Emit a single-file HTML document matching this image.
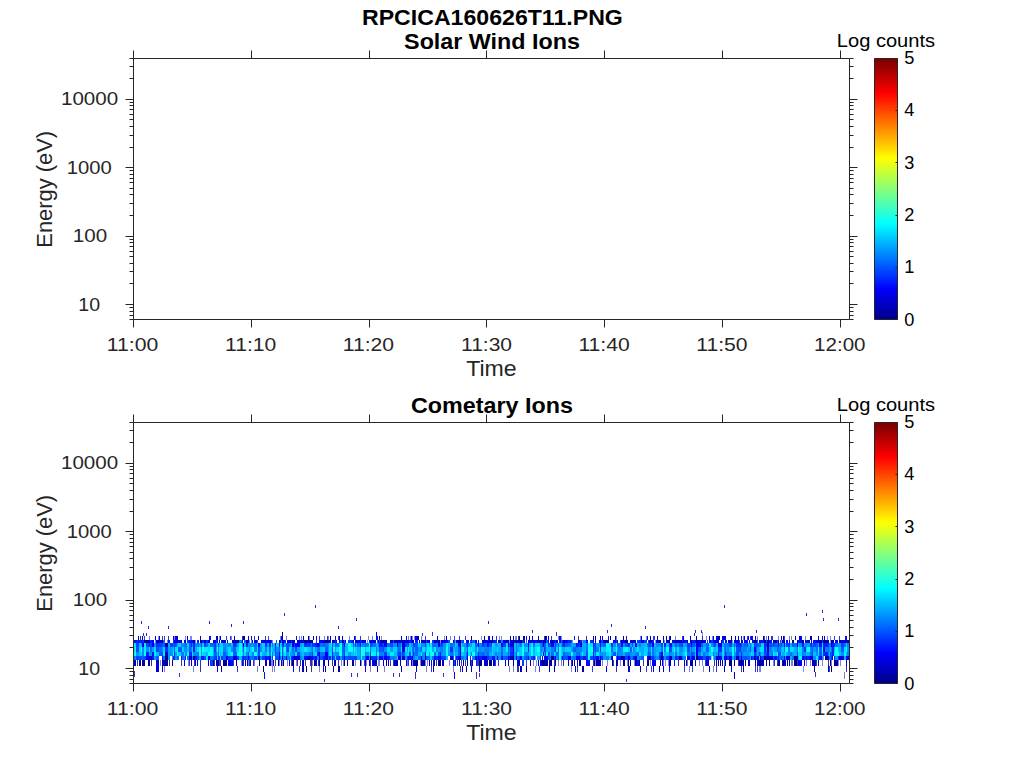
<!DOCTYPE html>
<html><head><meta charset="utf-8"><style>html,body{margin:0;padding:0;background:#fff;overflow:hidden}svg{display:block}</style></head>
<body><svg width="1024" height="768" viewBox="0 0 1024 768" font-family="Liberation Sans, sans-serif" fill="#262626">
<defs><linearGradient id="jetg" x1="0" y1="1" x2="0" y2="0"><stop offset="0.00781" stop-color="#00008f"/><stop offset="0.02344" stop-color="#00009f"/><stop offset="0.03906" stop-color="#0000af"/><stop offset="0.05469" stop-color="#0000bf"/><stop offset="0.07031" stop-color="#0000cf"/><stop offset="0.08594" stop-color="#0000df"/><stop offset="0.10156" stop-color="#0000ef"/><stop offset="0.11719" stop-color="#0000ff"/><stop offset="0.13281" stop-color="#0010ff"/><stop offset="0.14844" stop-color="#0020ff"/><stop offset="0.16406" stop-color="#0030ff"/><stop offset="0.17969" stop-color="#0040ff"/><stop offset="0.19531" stop-color="#0050ff"/><stop offset="0.21094" stop-color="#0060ff"/><stop offset="0.22656" stop-color="#0070ff"/><stop offset="0.24219" stop-color="#0080ff"/><stop offset="0.25781" stop-color="#008fff"/><stop offset="0.27344" stop-color="#009fff"/><stop offset="0.28906" stop-color="#00afff"/><stop offset="0.30469" stop-color="#00bfff"/><stop offset="0.32031" stop-color="#00cfff"/><stop offset="0.33594" stop-color="#00dfff"/><stop offset="0.35156" stop-color="#00efff"/><stop offset="0.36719" stop-color="#00ffff"/><stop offset="0.38281" stop-color="#10ffef"/><stop offset="0.39844" stop-color="#20ffdf"/><stop offset="0.41406" stop-color="#30ffcf"/><stop offset="0.42969" stop-color="#40ffbf"/><stop offset="0.44531" stop-color="#50ffaf"/><stop offset="0.46094" stop-color="#60ff9f"/><stop offset="0.47656" stop-color="#70ff8f"/><stop offset="0.49219" stop-color="#80ff80"/><stop offset="0.50781" stop-color="#8fff70"/><stop offset="0.52344" stop-color="#9fff60"/><stop offset="0.53906" stop-color="#afff50"/><stop offset="0.55469" stop-color="#bfff40"/><stop offset="0.57031" stop-color="#cfff30"/><stop offset="0.58594" stop-color="#dfff20"/><stop offset="0.60156" stop-color="#efff10"/><stop offset="0.61719" stop-color="#ffff00"/><stop offset="0.63281" stop-color="#ffef00"/><stop offset="0.64844" stop-color="#ffdf00"/><stop offset="0.66406" stop-color="#ffcf00"/><stop offset="0.67969" stop-color="#ffbf00"/><stop offset="0.69531" stop-color="#ffaf00"/><stop offset="0.71094" stop-color="#ff9f00"/><stop offset="0.72656" stop-color="#ff8f00"/><stop offset="0.74219" stop-color="#ff8000"/><stop offset="0.75781" stop-color="#ff7000"/><stop offset="0.77344" stop-color="#ff6000"/><stop offset="0.78906" stop-color="#ff5000"/><stop offset="0.80469" stop-color="#ff4000"/><stop offset="0.82031" stop-color="#ff3000"/><stop offset="0.83594" stop-color="#ff2000"/><stop offset="0.85156" stop-color="#ff1000"/><stop offset="0.86719" stop-color="#ff0000"/><stop offset="0.88281" stop-color="#ef0000"/><stop offset="0.89844" stop-color="#df0000"/><stop offset="0.91406" stop-color="#cf0000"/><stop offset="0.92969" stop-color="#bf0000"/><stop offset="0.94531" stop-color="#af0000"/><stop offset="0.96094" stop-color="#9f0000"/><stop offset="0.97656" stop-color="#8f0000"/><stop offset="0.99219" stop-color="#800000"/></linearGradient></defs>
<rect width="1024" height="768" fill="#fff"/>
<g shape-rendering="crispEdges">
<path fill="#00009f" d="M282 632h1v4.2h-1zM217 636.2h1v3.6h-1zM243 636.2h1v3.6h-1zM696 636.2h1v3.6h-1zM718 636.2h1v3.6h-1zM232 639.8h1v3.1h-1zM279 639.8h1v3.1h-1zM290 639.8h1v3.1h-1zM304 639.8h3v3.1h-3zM311 639.8h1v3.1h-1zM342 639.8h2v3.1h-2zM402 639.8h3v3.1h-3zM513 639.8h1v3.1h-1zM518 639.8h1v3.1h-1zM520 639.8h2v3.1h-2zM545 639.8h1v3.1h-1zM550 639.8h1v3.1h-1zM687 639.8h1v3.1h-1zM701 639.8h2v3.1h-2zM759 639.8h1v3.1h-1zM778 639.8h1v3.1h-1zM792 639.8h2v3.1h-2zM831 639.8h1v3.1h-1zM165 642.9h3v4.3h-3zM513 642.9h1v4.3h-1zM767 642.9h2v4.3h-2zM545 655.8h1v4.6h-1zM148 660.4h1v5.7h-1zM172 660.4h1v5.7h-1zM236 660.4h1v5.7h-1zM328 660.4h1v5.7h-1zM352 660.4h1v5.7h-1zM353 660.4h1v5.7h-1zM422 660.4h3v5.7h-3zM440 660.4h1v5.7h-1zM470 660.4h1v5.7h-1zM530 660.4h1v5.7h-1zM546 660.4h2v5.7h-2zM579 660.4h1v5.7h-1zM623 660.4h2v5.7h-2zM635 660.4h2v5.7h-2zM639 660.4h1v5.7h-1zM660 660.4h1v5.7h-1zM779 660.4h1v5.7h-1zM835 660.4h3v5.7h-3zM221 666.1h1v5.9h-1zM339 666.1h1v5.9h-1zM520 666.1h2v5.9h-2zM582 666.1h1v5.9h-1zM724 666.1h1v5.9h-1z"/>
<path fill="#0000ff" d="M376 632h1v4.2h-1zM159 636.2h1v3.6h-1zM175 636.2h2v3.6h-2zM251 636.2h1v3.6h-1zM546 636.2h1v3.6h-1zM600 636.2h1v3.6h-1zM602 636.2h1v3.6h-1zM683 636.2h1v3.6h-1zM690 636.2h1v3.6h-1zM716 636.2h2v3.6h-2zM722 636.2h2v3.6h-2zM755 636.2h1v3.6h-1zM799 636.2h3v3.6h-3zM818 636.2h1v3.6h-1zM152 639.8h2v3.1h-2zM178 639.8h3v3.1h-3zM217 639.8h1v3.1h-1zM265 639.8h2v3.1h-2zM267 639.8h2v3.1h-2zM320 639.8h3v3.1h-3zM336 639.8h1v3.1h-1zM345 639.8h1v3.1h-1zM405 639.8h2v3.1h-2zM408 639.8h1v3.1h-1zM411 639.8h1v3.1h-1zM443 639.8h3v3.1h-3zM446 639.8h2v3.1h-2zM453 639.8h1v3.1h-1zM467 639.8h1v3.1h-1zM517 639.8h1v3.1h-1zM531 639.8h2v3.1h-2zM554 639.8h1v3.1h-1zM565 639.8h3v3.1h-3zM586 639.8h2v3.1h-2zM613 639.8h3v3.1h-3zM623 639.8h2v3.1h-2zM632 639.8h1v3.1h-1zM663 639.8h1v3.1h-1zM705 639.8h1v3.1h-1zM709 639.8h2v3.1h-2zM713 639.8h1v3.1h-1zM734 639.8h1v3.1h-1zM749 639.8h1v3.1h-1zM786 639.8h2v3.1h-2zM816 639.8h2v3.1h-2zM835 639.8h3v3.1h-3zM152 642.9h2v4.3h-2zM258 642.9h2v4.3h-2zM279 642.9h1v4.3h-1zM297 642.9h3v4.3h-3zM317 642.9h2v4.3h-2zM344 642.9h1v4.3h-1zM384 642.9h3v4.3h-3zM510 642.9h3v4.3h-3zM528 642.9h1v4.3h-1zM551 642.9h3v4.3h-3zM691 642.9h1v4.3h-1zM718 642.9h1v4.3h-1zM719 642.9h3v4.3h-3zM696 647.2h2v4.4h-2zM754 647.2h2v4.4h-2zM823 647.2h2v4.4h-2zM279 651.6h1v4.2h-1zM319 651.6h1v4.2h-1zM661 651.6h2v4.2h-2zM146 655.8h3v4.6h-3zM312 655.8h1v4.6h-1zM332 655.8h1v4.6h-1zM366 655.8h3v4.6h-3zM379 655.8h1v4.6h-1zM384 655.8h3v4.6h-3zM398 655.8h3v4.6h-3zM408 655.8h1v4.6h-1zM440 655.8h1v4.6h-1zM458 655.8h2v4.6h-2zM482 655.8h2v4.6h-2zM497 655.8h1v4.6h-1zM516 655.8h1v4.6h-1zM542 655.8h1v4.6h-1zM546 655.8h2v4.6h-2zM555 655.8h1v4.6h-1zM576 655.8h3v4.6h-3zM579 655.8h1v4.6h-1zM596 655.8h3v4.6h-3zM628 655.8h2v4.6h-2zM751 655.8h1v4.6h-1zM766 655.8h1v4.6h-1zM802 655.8h2v4.6h-2zM812 655.8h1v4.6h-1zM847 655.8h2v4.6h-2zM197 660.4h1v5.7h-1zM372 660.4h1v5.7h-1zM540 660.4h2v5.7h-2zM799 660.4h3v5.7h-3zM365 666.1h1v5.9h-1zM606 666.1h1v5.9h-1zM653 666.1h1v5.9h-1z"/>
<path fill="#0000cf" fill-opacity="0.80" d="M432 632h1v4.2h-1zM230 636.2h1v3.6h-1zM265 636.2h1v3.6h-1zM319 636.2h1v3.6h-1zM338 636.2h1v3.6h-1zM276 639.8h1v3.1h-1zM189 660.4h1v5.7h-1zM194 660.4h1v5.7h-1zM393 660.4h1v5.7h-1zM495 660.4h1v5.7h-1zM571 660.4h1v5.7h-1zM643 660.4h1v5.7h-1zM237 666.1h1v5.9h-1zM651 666.1h1v5.9h-1zM755 666.1h1v5.9h-1zM757 666.1h1v5.9h-1zM846 666.1h1v5.9h-1z"/>
<path fill="#0000af" fill-opacity="0.80" d="M556 632h1v4.2h-1zM648 639.8h1v3.1h-1zM757 639.8h1v3.1h-1zM233 660.4h1v5.7h-1zM300 660.4h1v5.7h-1zM310 660.4h1v5.7h-1zM461 660.4h1v5.7h-1zM498 660.4h1v5.7h-1zM678 660.4h1v5.7h-1zM774 660.4h1v5.7h-1zM777 660.4h1v5.7h-1zM816 660.4h1v5.7h-1zM518 666.1h1v5.9h-1zM577 666.1h1v5.9h-1zM476 672h1v7h-1z"/>
<path fill="#0000ff" fill-opacity="0.50" d="M702 632h1v4.2h-1zM299 636.2h1v3.6h-1zM410 636.2h1v3.6h-1zM561 636.2h1v3.6h-1zM778 636.2h1v3.6h-1zM830 636.2h1v3.6h-1zM251 639.8h1v3.1h-1zM367 639.8h1v3.1h-1zM732 639.8h1v3.1h-1zM665 660.4h1v5.7h-1zM164 666.1h1v5.9h-1zM535 666.1h1v5.9h-1z"/>
<path fill="#0000cf" d="M138 636.2h1v3.6h-1zM155 636.2h1v3.6h-1zM187 636.2h1v3.6h-1zM216 636.2h1v3.6h-1zM330 636.2h1v3.6h-1zM339 636.2h1v3.6h-1zM354 636.2h1v3.6h-1zM411 636.2h1v3.6h-1zM446 636.2h1v3.6h-1zM593 636.2h1v3.6h-1zM650 636.2h1v3.6h-1zM666 636.2h1v3.6h-1zM725 636.2h1v3.6h-1zM159 639.8h3v3.1h-3zM185 639.8h1v3.1h-1zM204 639.8h2v3.1h-2zM208 639.8h2v3.1h-2zM213 639.8h1v3.1h-1zM233 639.8h3v3.1h-3zM252 639.8h1v3.1h-1zM262 639.8h3v3.1h-3zM282 639.8h1v3.1h-1zM283 639.8h1v3.1h-1zM289 639.8h1v3.1h-1zM292 639.8h2v3.1h-2zM297 639.8h3v3.1h-3zM300 639.8h2v3.1h-2zM307 639.8h2v3.1h-2zM333 639.8h2v3.1h-2zM394 639.8h3v3.1h-3zM419 639.8h1v3.1h-1zM434 639.8h2v3.1h-2zM489 639.8h3v3.1h-3zM506 639.8h2v3.1h-2zM508 639.8h1v3.1h-1zM510 639.8h3v3.1h-3zM514 639.8h2v3.1h-2zM556 639.8h2v3.1h-2zM599 639.8h1v3.1h-1zM651 639.8h1v3.1h-1zM656 639.8h3v3.1h-3zM691 639.8h1v3.1h-1zM718 639.8h1v3.1h-1zM729 639.8h3v3.1h-3zM767 647.2h2v4.4h-2zM150 655.8h2v4.6h-2zM191 655.8h1v4.6h-1zM233 655.8h3v4.6h-3zM282 655.8h1v4.6h-1zM307 655.8h2v4.6h-2zM319 655.8h1v4.6h-1zM611 655.8h2v4.6h-2zM649 655.8h2v4.6h-2zM687 655.8h3v4.6h-3zM726 655.8h1v4.6h-1zM754 655.8h2v4.6h-2zM757 655.8h2v4.6h-2zM760 655.8h1v4.6h-1zM788 655.8h2v4.6h-2zM810 655.8h2v4.6h-2zM841 655.8h3v4.6h-3zM134 660.4h1v5.7h-1zM163 660.4h2v5.7h-2zM191 660.4h1v5.7h-1zM195 660.4h1v5.7h-1zM302 660.4h2v5.7h-2zM365 660.4h1v5.7h-1zM373 660.4h3v5.7h-3zM383 660.4h1v5.7h-1zM411 660.4h1v5.7h-1zM545 660.4h1v5.7h-1zM550 660.4h1v5.7h-1zM599 660.4h1v5.7h-1zM600 660.4h1v5.7h-1zM669 660.4h1v5.7h-1zM716 660.4h1v5.7h-1zM748 660.4h2v5.7h-2zM785 660.4h1v5.7h-1zM798 660.4h1v5.7h-1zM818 660.4h1v5.7h-1zM846 660.4h1v5.7h-1zM162 666.1h1v5.9h-1zM323 666.1h1v5.9h-1zM401 666.1h1v5.9h-1zM628 666.1h2v5.9h-2zM640 666.1h1v5.9h-1zM709 666.1h1v5.9h-1z"/>
<path fill="#00009f" fill-opacity="0.80" d="M140 636.2h1v3.6h-1zM242 636.2h1v3.6h-1zM544 636.2h1v3.6h-1zM586 636.2h1v3.6h-1zM702 636.2h1v3.6h-1zM257 639.8h1v3.1h-1zM181 660.4h1v5.7h-1zM214 660.4h1v5.7h-1zM275 660.4h1v5.7h-1zM297 660.4h1v5.7h-1zM318 660.4h1v5.7h-1zM338 660.4h1v5.7h-1zM465 660.4h1v5.7h-1z"/>
<path fill="#0000bf" d="M142 636.2h1v3.6h-1zM248 636.2h1v3.6h-1zM342 636.2h1v3.6h-1zM471 636.2h1v3.6h-1zM663 636.2h1v3.6h-1zM735 636.2h1v3.6h-1zM824 636.2h1v3.6h-1zM156 639.8h3v3.1h-3zM177 639.8h1v3.1h-1zM184 639.8h1v3.1h-1zM223 639.8h3v3.1h-3zM246 639.8h2v3.1h-2zM269 639.8h2v3.1h-2zM280 639.8h1v3.1h-1zM353 639.8h1v3.1h-1zM356 639.8h1v3.1h-1zM365 639.8h1v3.1h-1zM380 639.8h3v3.1h-3zM384 639.8h3v3.1h-3zM397 639.8h1v3.1h-1zM422 639.8h3v3.1h-3zM482 639.8h2v3.1h-2zM498 639.8h3v3.1h-3zM516 639.8h1v3.1h-1zM519 639.8h1v3.1h-1zM537 639.8h3v3.1h-3zM544 639.8h1v3.1h-1zM551 639.8h3v3.1h-3zM563 639.8h2v3.1h-2zM593 639.8h1v3.1h-1zM603 639.8h3v3.1h-3zM649 639.8h2v3.1h-2zM666 639.8h3v3.1h-3zM716 639.8h2v3.1h-2zM797 639.8h1v3.1h-1zM805 639.8h1v3.1h-1zM807 639.8h3v3.1h-3zM811 639.8h1v3.1h-1zM844 639.8h2v3.1h-2zM846 639.8h1v3.1h-1zM847 639.8h2v3.1h-2zM460 642.9h1v4.3h-1zM165 651.6h3v4.2h-3zM189 655.8h2v4.6h-2zM258 655.8h2v4.6h-2zM402 655.8h3v4.6h-3zM467 655.8h1v4.6h-1zM510 655.8h3v4.6h-3zM648 655.8h1v4.6h-1zM670 655.8h2v4.6h-2zM679 655.8h3v4.6h-3zM716 655.8h2v4.6h-2zM736 655.8h3v4.6h-3zM139 660.4h2v5.7h-2zM217 660.4h1v5.7h-1zM265 660.4h2v5.7h-2zM269 660.4h2v5.7h-2zM273 660.4h1v5.7h-1zM323 660.4h2v5.7h-2zM335 660.4h1v5.7h-1zM347 660.4h1v5.7h-1zM394 660.4h3v5.7h-3zM400 660.4h1v5.7h-1zM414 660.4h1v5.7h-1zM467 660.4h1v5.7h-1zM518 660.4h1v5.7h-1zM519 660.4h1v5.7h-1zM568 660.4h1v5.7h-1zM684 660.4h1v5.7h-1zM695 660.4h1v5.7h-1zM720 660.4h1v5.7h-1zM725 660.4h1v5.7h-1zM739 660.4h2v5.7h-2zM761 660.4h3v5.7h-3zM778 660.4h1v5.7h-1zM789 660.4h1v5.7h-1zM813 660.4h3v5.7h-3zM333 666.1h1v5.9h-1zM466 666.1h1v5.9h-1zM549 666.1h1v5.9h-1zM583 666.1h1v5.9h-1z"/>
<path fill="#0000ef" fill-opacity="0.80" d="M144 636.2h1v3.6h-1zM164 636.2h1v3.6h-1zM425 636.2h1v3.6h-1zM465 636.2h1v3.6h-1zM496 636.2h1v3.6h-1zM551 636.2h1v3.6h-1zM654 636.2h1v3.6h-1zM747 636.2h1v3.6h-1zM777 639.8h1v3.1h-1zM431 666.1h1v5.9h-1zM646 666.1h1v5.9h-1z"/>
<path fill="#0000af" fill-opacity="0.50" d="M149 636.2h1v3.6h-1zM286 636.2h1v3.6h-1zM516 636.2h1v3.6h-1zM791 636.2h1v3.6h-1zM195 639.8h1v3.1h-1zM272 639.8h1v3.1h-1zM455 639.8h1v3.1h-1zM823 655.8h1v4.6h-1zM296 660.4h1v5.7h-1zM412 660.4h1v5.7h-1zM558 660.4h1v5.7h-1zM620 660.4h1v5.7h-1zM650 660.4h1v5.7h-1zM822 660.4h1v5.7h-1zM193 666.1h1v5.9h-1zM272 666.1h1v5.9h-1zM370 666.1h1v5.9h-1zM426 666.1h1v5.9h-1zM509 666.1h1v5.9h-1zM703 666.1h1v5.9h-1z"/>
<path fill="#0010ff" fill-opacity="0.50" d="M158 636.2h1v3.6h-1zM190 636.2h1v3.6h-1zM219 636.2h1v3.6h-1zM368 636.2h1v3.6h-1zM381 636.2h1v3.6h-1zM481 636.2h1v3.6h-1zM499 636.2h1v3.6h-1zM640 636.2h1v3.6h-1zM582 639.8h1v3.1h-1zM781 639.8h1v3.1h-1zM536 660.4h1v5.7h-1zM668 660.4h1v5.7h-1zM773 660.4h1v5.7h-1zM803 666.1h1v5.9h-1z"/>
<path fill="#0000df" fill-opacity="0.80" d="M162 636.2h1v3.6h-1zM226 636.2h1v3.6h-1zM254 636.2h1v3.6h-1zM360 636.2h1v3.6h-1zM750 636.2h1v3.6h-1zM393 639.8h1v3.1h-1zM620 639.8h1v3.1h-1zM249 660.4h1v5.7h-1zM291 660.4h1v5.7h-1zM305 660.4h1v5.7h-1zM408 660.4h1v5.7h-1zM471 660.4h1v5.7h-1zM477 660.4h1v5.7h-1zM705 660.4h1v5.7h-1zM716 666.1h1v5.9h-1z"/>
<path fill="#00008f" fill-opacity="0.80" d="M168 636.2h1v3.6h-1zM518 636.2h1v3.6h-1zM616 639.8h1v3.1h-1zM707 639.8h1v3.1h-1zM780 639.8h1v3.1h-1zM137 660.4h1v5.7h-1zM151 660.4h1v5.7h-1zM169 660.4h1v5.7h-1zM243 660.4h1v5.7h-1zM311 660.4h1v5.7h-1zM332 660.4h1v5.7h-1zM370 660.4h1v5.7h-1zM390 660.4h1v5.7h-1zM436 660.4h1v5.7h-1zM478 660.4h1v5.7h-1zM563 660.4h1v5.7h-1zM593 660.4h1v5.7h-1zM738 660.4h1v5.7h-1zM797 660.4h1v5.7h-1zM828 660.4h1v5.7h-1zM200 666.1h1v5.9h-1zM311 666.1h1v5.9h-1zM460 666.1h1v5.9h-1zM517 666.1h1v5.9h-1zM616 666.1h1v5.9h-1zM741 666.1h1v5.9h-1z"/>
<path fill="#0000ef" d="M173 636.2h1v3.6h-1zM200 636.2h1v3.6h-1zM220 636.2h1v3.6h-1zM492 636.2h1v3.6h-1zM532 636.2h1v3.6h-1zM641 636.2h1v3.6h-1zM709 636.2h1v3.6h-1zM724 636.2h1v3.6h-1zM748 636.2h1v3.6h-1zM751 636.2h1v3.6h-1zM781 636.2h1v3.6h-1zM135 639.8h1v3.1h-1zM149 639.8h1v3.1h-1zM175 639.8h2v3.1h-2zM201 639.8h1v3.1h-1zM214 639.8h2v3.1h-2zM221 639.8h2v3.1h-2zM287 639.8h2v3.1h-2zM355 639.8h1v3.1h-1zM357 639.8h3v3.1h-3zM362 639.8h3v3.1h-3zM371 639.8h2v3.1h-2zM427 639.8h2v3.1h-2zM429 639.8h1v3.1h-1zM456 639.8h2v3.1h-2zM466 639.8h1v3.1h-1zM475 639.8h2v3.1h-2zM484 639.8h3v3.1h-3zM503 639.8h3v3.1h-3zM529 639.8h2v3.1h-2zM533 639.8h2v3.1h-2zM595 639.8h1v3.1h-1zM674 639.8h1v3.1h-1zM698 639.8h3v3.1h-3zM703 639.8h2v3.1h-2zM714 639.8h2v3.1h-2zM736 639.8h3v3.1h-3zM742 639.8h1v3.1h-1zM744 639.8h3v3.1h-3zM789 639.8h1v3.1h-1zM841 639.8h3v3.1h-3zM142 642.9h2v4.3h-2zM292 642.9h2v4.3h-2zM438 642.9h2v4.3h-2zM501 642.9h2v4.3h-2zM508 642.9h1v4.3h-1zM696 642.9h2v4.3h-2zM698 642.9h3v4.3h-3zM797 642.9h1v4.3h-1zM402 647.2h3v4.4h-3zM460 647.2h1v4.4h-1zM325 651.6h3v4.2h-3zM460 651.6h1v4.2h-1zM543 651.6h1v4.2h-1zM696 651.6h2v4.2h-2zM208 655.8h2v4.6h-2zM226 655.8h2v4.6h-2zM236 655.8h1v4.6h-1zM248 655.8h1v4.6h-1zM269 655.8h2v4.6h-2zM286 655.8h1v4.6h-1zM295 655.8h2v4.6h-2zM325 655.8h3v4.6h-3zM344 655.8h1v4.6h-1zM425 655.8h1v4.6h-1zM478 655.8h1v4.6h-1zM568 655.8h3v4.6h-3zM600 655.8h1v4.6h-1zM617 655.8h1v4.6h-1zM669 655.8h1v4.6h-1zM692 655.8h3v4.6h-3zM718 655.8h1v4.6h-1zM719 655.8h3v4.6h-3zM724 655.8h1v4.6h-1zM729 655.8h3v4.6h-3zM741 655.8h1v4.6h-1zM786 655.8h2v4.6h-2zM228 660.4h3v5.7h-3zM281 660.4h1v5.7h-1zM369 660.4h1v5.7h-1zM388 660.4h1v5.7h-1zM406 660.4h1v5.7h-1zM413 660.4h1v5.7h-1zM453 660.4h1v5.7h-1zM455 660.4h1v5.7h-1zM652 660.4h2v5.7h-2zM654 660.4h2v5.7h-2zM731 666.1h1v5.9h-1zM454 672h1v7h-1z"/>
<path fill="#0000cf" fill-opacity="0.50" d="M174 636.2h1v3.6h-1zM328 636.2h1v3.6h-1zM372 636.2h1v3.6h-1zM421 636.2h1v3.6h-1zM444 636.2h1v3.6h-1zM766 636.2h1v3.6h-1zM805 636.2h1v3.6h-1zM160 660.4h1v5.7h-1zM248 660.4h1v5.7h-1zM254 660.4h1v5.7h-1zM420 660.4h1v5.7h-1zM806 660.4h1v5.7h-1zM810 660.4h1v5.7h-1zM274 666.1h1v5.9h-1zM689 666.1h1v5.9h-1zM713 666.1h1v5.9h-1zM760 666.1h1v5.9h-1z"/>
<path fill="#00008f" d="M177 636.2h1v3.6h-1zM244 636.2h1v3.6h-1zM308 636.2h1v3.6h-1zM313 636.2h1v3.6h-1zM418 636.2h1v3.6h-1zM519 636.2h1v3.6h-1zM545 636.2h1v3.6h-1zM595 636.2h1v3.6h-1zM610 636.2h1v3.6h-1zM623 636.2h1v3.6h-1zM657 636.2h1v3.6h-1zM670 636.2h1v3.6h-1zM731 636.2h1v3.6h-1zM763 636.2h1v3.6h-1zM783 636.2h1v3.6h-1zM795 636.2h1v3.6h-1zM810 636.2h2v3.6h-2zM146 639.8h3v3.1h-3zM162 639.8h1v3.1h-1zM181 639.8h1v3.1h-1zM200 639.8h1v3.1h-1zM236 639.8h1v3.1h-1zM237 639.8h2v3.1h-2zM309 639.8h2v3.1h-2zM325 639.8h3v3.1h-3zM332 639.8h1v3.1h-1zM378 639.8h1v3.1h-1zM383 639.8h1v3.1h-1zM407 639.8h1v3.1h-1zM458 639.8h2v3.1h-2zM460 639.8h1v3.1h-1zM492 639.8h1v3.1h-1zM528 639.8h1v3.1h-1zM578 639.8h1v3.1h-1zM625 639.8h3v3.1h-3zM659 639.8h2v3.1h-2zM669 639.8h1v3.1h-1zM677 639.8h2v3.1h-2zM696 639.8h2v3.1h-2zM728 639.8h1v3.1h-1zM735 639.8h1v3.1h-1zM741 639.8h1v3.1h-1zM754 639.8h2v3.1h-2zM764 639.8h2v3.1h-2zM767 639.8h2v3.1h-2zM784 639.8h1v3.1h-1zM819 639.8h3v3.1h-3zM823 639.8h2v3.1h-2zM832 639.8h2v3.1h-2zM839 639.8h2v3.1h-2zM165 655.8h3v4.6h-3zM193 655.8h2v4.6h-2zM370 655.8h1v4.6h-1zM460 655.8h1v4.6h-1zM513 655.8h1v4.6h-1zM551 655.8h3v4.6h-3zM621 655.8h2v4.6h-2zM661 655.8h2v4.6h-2zM696 655.8h2v4.6h-2zM764 655.8h2v4.6h-2zM767 655.8h2v4.6h-2zM794 655.8h3v4.6h-3zM825 655.8h3v4.6h-3zM142 660.4h2v5.7h-2zM149 660.4h1v5.7h-1zM162 660.4h1v5.7h-1zM165 660.4h3v5.7h-3zM216 660.4h1v5.7h-1zM218 660.4h1v5.7h-1zM223 660.4h3v5.7h-3zM226 660.4h1v5.7h-1zM245 660.4h1v5.7h-1zM259 660.4h1v5.7h-1zM278 660.4h1v5.7h-1zM292 660.4h2v5.7h-2zM314 660.4h1v5.7h-1zM344 660.4h1v5.7h-1zM360 660.4h1v5.7h-1zM386 660.4h1v5.7h-1zM415 660.4h3v5.7h-3zM421 660.4h1v5.7h-1zM434 660.4h1v5.7h-1zM438 660.4h2v5.7h-2zM443 660.4h1v5.7h-1zM459 660.4h1v5.7h-1zM463 660.4h1v5.7h-1zM479 660.4h3v5.7h-3zM489 660.4h3v5.7h-3zM508 660.4h1v5.7h-1zM513 660.4h1v5.7h-1zM542 660.4h1v5.7h-1zM543 660.4h1v5.7h-1zM544 660.4h1v5.7h-1zM551 660.4h1v5.7h-1zM555 660.4h1v5.7h-1zM596 660.4h3v5.7h-3zM612 660.4h1v5.7h-1zM628 660.4h1v5.7h-1zM647 660.4h1v5.7h-1zM648 660.4h1v5.7h-1zM670 660.4h1v5.7h-1zM691 660.4h1v5.7h-1zM692 660.4h1v5.7h-1zM718 660.4h1v5.7h-1zM722 660.4h1v5.7h-1zM729 660.4h3v5.7h-3zM734 660.4h1v5.7h-1zM741 660.4h1v5.7h-1zM745 660.4h1v5.7h-1zM755 660.4h1v5.7h-1zM759 660.4h1v5.7h-1zM760 660.4h1v5.7h-1zM769 660.4h1v5.7h-1zM787 660.4h1v5.7h-1zM794 660.4h3v5.7h-3zM812 660.4h1v5.7h-1zM830 660.4h1v5.7h-1zM834 660.4h1v5.7h-1zM263 666.1h1v5.9h-1zM306 666.1h1v5.9h-1zM325 666.1h1v5.9h-1zM338 666.1h1v5.9h-1zM526 666.1h1v5.9h-1zM831 666.1h1v5.9h-1z"/>
<path fill="#0000ef" fill-opacity="0.50" d="M185 636.2h1v3.6h-1zM191 636.2h1v3.6h-1zM501 636.2h1v3.6h-1zM646 636.2h1v3.6h-1zM757 636.2h1v3.6h-1zM827 636.2h1v3.6h-1zM249 639.8h1v3.1h-1zM509 639.8h1v3.1h-1zM535 655.8h1v4.6h-1zM188 660.4h1v5.7h-1zM241 660.4h1v5.7h-1zM341 660.4h1v5.7h-1zM361 660.4h1v5.7h-1zM378 660.4h1v5.7h-1zM427 660.4h1v5.7h-1zM702 660.4h1v5.7h-1zM838 660.4h1v5.7h-1zM453 666.1h1v5.9h-1zM571 666.1h1v5.9h-1z"/>
<path fill="#0010ff" d="M209 636.2h1v3.6h-1zM210 636.2h1v3.6h-1zM281 636.2h1v3.6h-1zM296 636.2h1v3.6h-1zM335 636.2h1v3.6h-1zM376 636.2h1v3.6h-1zM377 636.2h1v3.6h-1zM406 636.2h1v3.6h-1zM488 636.2h1v3.6h-1zM526 636.2h1v3.6h-1zM559 636.2h2v3.6h-2zM574 636.2h1v3.6h-1zM608 636.2h1v3.6h-1zM626 636.2h1v3.6h-1zM647 636.2h1v3.6h-1zM669 636.2h1v3.6h-1zM713 636.2h1v3.6h-1zM741 636.2h1v3.6h-1zM752 636.2h1v3.6h-1zM822 636.2h1v3.6h-1zM845 636.2h1v3.6h-1zM846 636.2h1v3.6h-1zM133 639.8h2v3.1h-2zM141 639.8h1v3.1h-1zM168 639.8h2v3.1h-2zM189 639.8h2v3.1h-2zM191 639.8h1v3.1h-1zM192 639.8h1v3.1h-1zM291 639.8h1v3.1h-1zM361 639.8h1v3.1h-1zM401 639.8h1v3.1h-1zM409 639.8h2v3.1h-2zM493 639.8h2v3.1h-2zM535 639.8h2v3.1h-2zM548 639.8h1v3.1h-1zM559 639.8h2v3.1h-2zM685 639.8h2v3.1h-2zM695 639.8h1v3.1h-1zM725 639.8h1v3.1h-1zM726 639.8h1v3.1h-1zM747 639.8h1v3.1h-1zM760 639.8h1v3.1h-1zM761 639.8h3v3.1h-3zM769 639.8h3v3.1h-3zM813 639.8h3v3.1h-3zM295 642.9h2v4.3h-2zM360 642.9h1v4.3h-1zM379 642.9h1v4.3h-1zM458 642.9h2v4.3h-2zM478 642.9h1v4.3h-1zM487 642.9h2v4.3h-2zM600 642.9h1v4.3h-1zM621 642.9h2v4.3h-2zM635 642.9h2v4.3h-2zM670 642.9h2v4.3h-2zM784 642.9h1v4.3h-1zM819 642.9h3v4.3h-3zM152 651.6h2v4.2h-2zM467 651.6h1v4.2h-1zM513 651.6h1v4.2h-1zM767 651.6h2v4.2h-2zM152 655.8h2v4.6h-2zM162 655.8h1v4.6h-1zM185 655.8h1v4.6h-1zM201 655.8h1v4.6h-1zM265 655.8h2v4.6h-2zM292 655.8h2v4.6h-2zM304 655.8h3v4.6h-3zM311 655.8h1v4.6h-1zM315 655.8h2v4.6h-2zM380 655.8h3v4.6h-3zM409 655.8h2v4.6h-2zM434 655.8h2v4.6h-2zM438 655.8h2v4.6h-2zM492 655.8h1v4.6h-1zM493 655.8h2v4.6h-2zM501 655.8h2v4.6h-2zM508 655.8h1v4.6h-1zM509 655.8h1v4.6h-1zM520 655.8h2v4.6h-2zM528 655.8h1v4.6h-1zM544 655.8h1v4.6h-1zM562 655.8h1v4.6h-1zM618 655.8h3v4.6h-3zM647 655.8h1v4.6h-1zM698 655.8h3v4.6h-3zM706 655.8h3v4.6h-3zM725 655.8h1v4.6h-1zM774 655.8h3v4.6h-3zM819 655.8h3v4.6h-3zM846 655.8h1v4.6h-1zM231 660.4h2v5.7h-2zM242 660.4h1v5.7h-1zM431 660.4h1v5.7h-1zM586 660.4h2v5.7h-2zM588 660.4h2v5.7h-2zM637 660.4h2v5.7h-2zM674 660.4h1v5.7h-1zM293 666.1h1v5.9h-1zM479 666.1h1v5.9h-1zM669 666.1h1v5.9h-1zM264 672h1v7h-1z"/>
<path fill="#00009f" fill-opacity="0.50" d="M231 636.2h1v3.6h-1zM789 636.2h1v3.6h-1zM167 639.8h1v3.1h-1zM830 639.8h1v3.1h-1zM355 660.4h1v5.7h-1zM561 660.4h1v5.7h-1zM602 660.4h1v5.7h-1zM792 660.4h1v5.7h-1zM257 666.1h1v5.9h-1z"/>
<path fill="#0000df" d="M234 636.2h1v3.6h-1zM303 636.2h1v3.6h-1zM316 636.2h1v3.6h-1zM401 636.2h1v3.6h-1zM415 636.2h3v3.6h-3zM437 636.2h1v3.6h-1zM513 636.2h1v3.6h-1zM523 636.2h1v3.6h-1zM529 636.2h1v3.6h-1zM548 636.2h1v3.6h-1zM738 636.2h1v3.6h-1zM744 636.2h1v3.6h-1zM768 636.2h1v3.6h-1zM174 639.8h1v3.1h-1zM219 639.8h1v3.1h-1zM242 639.8h1v3.1h-1zM248 639.8h1v3.1h-1zM254 639.8h3v3.1h-3zM261 639.8h1v3.1h-1zM302 639.8h2v3.1h-2zM319 639.8h1v3.1h-1zM323 639.8h2v3.1h-2zM328 639.8h1v3.1h-1zM329 639.8h2v3.1h-2zM339 639.8h1v3.1h-1zM373 639.8h3v3.1h-3zM390 639.8h3v3.1h-3zM398 639.8h3v3.1h-3zM421 639.8h1v3.1h-1zM436 639.8h2v3.1h-2zM441 639.8h2v3.1h-2zM468 639.8h1v3.1h-1zM478 639.8h1v3.1h-1zM487 639.8h2v3.1h-2zM524 639.8h1v3.1h-1zM540 639.8h2v3.1h-2zM579 639.8h1v3.1h-1zM600 639.8h1v3.1h-1zM617 639.8h1v3.1h-1zM621 639.8h2v3.1h-2zM630 639.8h2v3.1h-2zM633 639.8h2v3.1h-2zM641 639.8h3v3.1h-3zM672 639.8h2v3.1h-2zM675 639.8h2v3.1h-2zM679 639.8h3v3.1h-3zM683 639.8h2v3.1h-2zM690 639.8h1v3.1h-1zM721 639.8h1v3.1h-1zM752 639.8h2v3.1h-2zM756 639.8h1v3.1h-1zM773 639.8h1v3.1h-1zM782 639.8h2v3.1h-2zM799 639.8h3v3.1h-3zM818 639.8h1v3.1h-1zM243 642.9h1v4.3h-1zM397 642.9h1v4.3h-1zM402 642.9h3v4.3h-3zM543 642.9h1v4.3h-1zM580 642.9h2v4.3h-2zM652 642.9h2v4.3h-2zM831 642.9h1v4.3h-1zM513 647.2h1v4.4h-1zM149 655.8h1v4.6h-1zM279 655.8h1v4.6h-1zM297 655.8h3v4.6h-3zM309 655.8h2v4.6h-2zM412 655.8h1v4.6h-1zM421 655.8h1v4.6h-1zM475 655.8h2v4.6h-2zM484 655.8h3v4.6h-3zM623 655.8h2v4.6h-2zM635 655.8h2v4.6h-2zM769 655.8h3v4.6h-3zM772 655.8h1v4.6h-1zM784 655.8h1v4.6h-1zM797 655.8h1v4.6h-1zM806 655.8h1v4.6h-1zM828 655.8h1v4.6h-1zM832 655.8h1v4.6h-1zM839 655.8h2v4.6h-2zM156 660.4h3v5.7h-3zM184 660.4h1v5.7h-1zM208 660.4h1v5.7h-1zM289 660.4h1v5.7h-1zM315 660.4h2v5.7h-2zM442 660.4h1v5.7h-1zM472 660.4h1v5.7h-1zM484 660.4h3v5.7h-3zM493 660.4h2v5.7h-2zM505 660.4h1v5.7h-1zM517 660.4h1v5.7h-1zM538 660.4h1v5.7h-1zM577 660.4h1v5.7h-1zM594 660.4h1v5.7h-1zM662 660.4h1v5.7h-1zM690 660.4h1v5.7h-1zM706 660.4h3v5.7h-3zM757 660.4h2v5.7h-2zM784 660.4h1v5.7h-1zM804 660.4h1v5.7h-1zM156 666.1h3v5.9h-3zM217 666.1h1v5.9h-1zM377 666.1h1v5.9h-1zM416 666.1h1v5.9h-1zM462 666.1h1v5.9h-1zM471 666.1h1v5.9h-1zM663 666.1h1v5.9h-1zM743 666.1h1v5.9h-1z"/>
<path fill="#0000af" d="M258 636.2h1v3.6h-1zM282 636.2h1v3.6h-1zM379 636.2h1v3.6h-1zM484 636.2h1v3.6h-1zM489 636.2h1v3.6h-1zM510 636.2h1v3.6h-1zM524 636.2h1v3.6h-1zM538 636.2h1v3.6h-1zM615 636.2h1v3.6h-1zM719 636.2h1v3.6h-1zM144 639.8h2v3.1h-2zM193 639.8h2v3.1h-2zM227 639.8h1v3.1h-1zM294 639.8h1v3.1h-1zM312 639.8h1v3.1h-1zM370 639.8h1v3.1h-1zM412 639.8h1v3.1h-1zM413 639.8h1v3.1h-1zM425 639.8h1v3.1h-1zM438 639.8h2v3.1h-2zM543 639.8h1v3.1h-1zM606 639.8h3v3.1h-3zM635 639.8h1v3.1h-1zM774 639.8h3v3.1h-3zM802 639.8h2v3.1h-2zM825 639.8h3v3.1h-3zM828 639.8h1v3.1h-1zM294 655.8h1v4.6h-1zM450 655.8h3v4.6h-3zM135 660.4h1v5.7h-1zM144 660.4h1v5.7h-1zM213 660.4h1v5.7h-1zM247 660.4h1v5.7h-1zM250 660.4h1v5.7h-1zM283 660.4h1v5.7h-1zM319 660.4h1v5.7h-1zM334 660.4h1v5.7h-1zM376 660.4h1v5.7h-1zM397 660.4h1v5.7h-1zM429 660.4h1v5.7h-1zM487 660.4h1v5.7h-1zM549 660.4h1v5.7h-1zM572 660.4h1v5.7h-1zM574 660.4h1v5.7h-1zM580 660.4h1v5.7h-1zM616 660.4h1v5.7h-1zM617 660.4h1v5.7h-1zM630 660.4h1v5.7h-1zM686 660.4h1v5.7h-1zM742 660.4h2v5.7h-2zM766 660.4h1v5.7h-1zM782 660.4h2v5.7h-2zM302 666.1h2v5.9h-2zM433 666.1h1v5.9h-1zM554 666.1h1v5.9h-1zM575 666.1h1v5.9h-1zM659 666.1h1v5.9h-1zM814 666.1h1v5.9h-1zM828 666.1h1v5.9h-1zM734 672h1v7h-1z"/>
<path fill="#0010ff" fill-opacity="0.80" d="M268 636.2h1v3.6h-1zM355 636.2h1v3.6h-1zM454 636.2h1v3.6h-1zM764 636.2h1v3.6h-1zM834 636.2h1v3.6h-1zM344 639.8h1v3.1h-1zM526 660.4h1v5.7h-1zM539 666.1h1v5.9h-1zM592 666.1h1v5.9h-1zM684 666.1h1v5.9h-1zM692 666.1h1v5.9h-1z"/>
<path fill="#0000df" fill-opacity="0.50" d="M280 636.2h1v3.6h-1zM301 636.2h1v3.6h-1zM309 636.2h1v3.6h-1zM324 636.2h1v3.6h-1zM616 636.2h1v3.6h-1zM712 636.2h1v3.6h-1zM572 639.8h1v3.1h-1zM271 660.4h1v5.7h-1zM425 660.4h1v5.7h-1zM449 660.4h1v5.7h-1zM607 660.4h1v5.7h-1zM663 660.4h1v5.7h-1z"/>
<path fill="#0000bf" fill-opacity="0.80" d="M327 636.2h1v3.6h-1zM578 636.2h1v3.6h-1zM771 636.2h1v3.6h-1zM772 636.2h1v3.6h-1zM839 636.2h1v3.6h-1zM216 639.8h1v3.1h-1zM739 639.8h1v3.1h-1zM220 660.4h1v5.7h-1zM253 660.4h1v5.7h-1zM364 660.4h1v5.7h-1zM554 660.4h1v5.7h-1zM613 660.4h1v5.7h-1zM714 660.4h1v5.7h-1zM299 666.1h1v5.9h-1zM829 666.1h1v5.9h-1zM415 672h1v7h-1zM134 671h1v6h-1zM179 673h1v4h-1zM324 679h1v3h-1zM351 673h1v4h-1zM357 673h1v4h-1zM393 673h1v4h-1zM399 673h1v4h-1zM443 673h1v4h-1zM479 673h1v4h-1zM626 679h1v3h-1zM815 672h1v5h-1z"/>
<path fill="#0000bf" fill-opacity="0.50" d="M349 636.2h1v3.6h-1zM412 636.2h1v3.6h-1zM414 636.2h1v3.6h-1zM515 636.2h1v3.6h-1zM706 636.2h1v3.6h-1zM743 636.2h1v3.6h-1zM664 639.8h1v3.1h-1zM272 660.4h1v5.7h-1zM343 660.4h1v5.7h-1zM634 660.4h1v5.7h-1zM699 660.4h1v5.7h-1zM724 660.4h1v5.7h-1zM791 660.4h1v5.7h-1zM840 660.4h1v5.7h-1zM319 666.1h1v5.9h-1zM759 666.1h1v5.9h-1zM844 672h1v7h-1z"/>
<path fill="#00008f" fill-opacity="0.50" d="M408 636.2h1v3.6h-1zM450 636.2h1v3.6h-1zM558 636.2h1v3.6h-1zM675 636.2h1v3.6h-1zM155 639.8h1v3.1h-1zM279 660.4h1v5.7h-1zM282 660.4h1v5.7h-1zM287 660.4h1v5.7h-1zM312 660.4h1v5.7h-1zM366 660.4h1v5.7h-1zM379 660.4h1v5.7h-1zM407 660.4h1v5.7h-1zM533 660.4h1v5.7h-1zM595 660.4h1v5.7h-1zM627 660.4h1v5.7h-1zM687 660.4h1v5.7h-1zM831 660.4h1v5.7h-1zM384 666.1h1v5.9h-1zM513 666.1h1v5.9h-1z"/>
<path fill="#0000ff" fill-opacity="0.80" d="M459 636.2h1v3.6h-1zM653 636.2h1v3.6h-1zM682 636.2h1v3.6h-1zM784 636.2h1v3.6h-1zM379 639.8h1v3.1h-1zM561 639.8h1v3.1h-1zM540 655.8h1v4.6h-1zM219 660.4h1v5.7h-1zM454 660.4h1v5.7h-1z"/>
<path fill="#0020ff" d="M136 639.8h3v3.1h-3zM139 639.8h2v3.1h-2zM150 639.8h2v3.1h-2zM197 639.8h2v3.1h-2zM202 639.8h2v3.1h-2zM271 639.8h1v3.1h-1zM284 639.8h2v3.1h-2zM351 639.8h2v3.1h-2zM360 639.8h1v3.1h-1zM415 639.8h3v3.1h-3zM471 639.8h1v3.1h-1zM495 639.8h2v3.1h-2zM522 639.8h2v3.1h-2zM542 639.8h1v3.1h-1zM555 639.8h1v3.1h-1zM568 639.8h3v3.1h-3zM580 639.8h2v3.1h-2zM652 639.8h2v3.1h-2zM682 639.8h1v3.1h-1zM692 639.8h3v3.1h-3zM798 639.8h1v3.1h-1zM806 639.8h1v3.1h-1zM149 642.9h1v4.3h-1zM191 642.9h1v4.3h-1zM193 642.9h2v4.3h-2zM246 642.9h2v4.3h-2zM275 642.9h1v4.3h-1zM315 642.9h2v4.3h-2zM319 642.9h1v4.3h-1zM380 642.9h3v4.3h-3zM467 642.9h1v4.3h-1zM563 642.9h2v4.3h-2zM576 642.9h3v4.3h-3zM664 642.9h2v4.3h-2zM739 642.9h2v4.3h-2zM778 642.9h1v4.3h-1zM802 642.9h2v4.3h-2zM823 642.9h2v4.3h-2zM825 642.9h3v4.3h-3zM832 642.9h2v4.3h-2zM193 647.2h2v4.4h-2zM528 647.2h1v4.4h-1zM146 651.6h3v4.2h-3zM191 651.6h1v4.2h-1zM317 651.6h2v4.2h-2zM425 651.6h1v4.2h-1zM593 651.6h1v4.2h-1zM718 651.6h1v4.2h-1zM825 651.6h3v4.2h-3zM832 651.6h2v4.2h-2zM181 655.8h1v4.6h-1zM195 655.8h2v4.6h-2zM202 655.8h2v4.6h-2zM216 655.8h1v4.6h-1zM243 655.8h1v4.6h-1zM267 655.8h2v4.6h-2zM323 655.8h2v4.6h-2zM339 655.8h1v4.6h-1zM376 655.8h1v4.6h-1zM387 655.8h3v4.6h-3zM411 655.8h1v4.6h-1zM456 655.8h2v4.6h-2zM470 655.8h1v4.6h-1zM479 655.8h3v4.6h-3zM533 655.8h2v4.6h-2zM583 655.8h3v4.6h-3zM593 655.8h1v4.6h-1zM633 655.8h2v4.6h-2zM675 655.8h2v4.6h-2zM691 655.8h1v4.6h-1zM701 655.8h2v4.6h-2zM756 655.8h1v4.6h-1zM778 655.8h1v4.6h-1zM807 655.8h3v4.6h-3zM834 655.8h1v4.6h-1zM433 660.4h1v5.7h-1zM476 660.4h1v5.7h-1z"/>
<path fill="#0030ff" d="M142 639.8h2v3.1h-2zM173 639.8h1v3.1h-1zM206 639.8h2v3.1h-2zM335 639.8h1v3.1h-1zM369 639.8h1v3.1h-1zM432 639.8h2v3.1h-2zM562 639.8h1v3.1h-1zM590 639.8h3v3.1h-3zM639 639.8h2v3.1h-2zM711 639.8h2v3.1h-2zM722 639.8h2v3.1h-2zM156 642.9h3v4.3h-3zM174 642.9h1v4.3h-1zM233 642.9h3v4.3h-3zM265 642.9h2v4.3h-2zM269 642.9h2v4.3h-2zM282 642.9h1v4.3h-1zM283 642.9h1v4.3h-1zM304 642.9h3v4.3h-3zM312 642.9h1v4.3h-1zM482 642.9h2v4.3h-2zM593 642.9h1v4.3h-1zM611 642.9h2v4.3h-2zM628 642.9h2v4.3h-2zM682 642.9h1v4.3h-1zM736 642.9h3v4.3h-3zM764 642.9h2v4.3h-2zM766 642.9h1v4.3h-1zM810 642.9h2v4.3h-2zM834 642.9h1v4.3h-1zM165 647.2h3v4.4h-3zM450 647.2h3v4.4h-3zM600 647.2h1v4.4h-1zM718 647.2h1v4.4h-1zM719 647.2h3v4.4h-3zM764 647.2h2v4.4h-2zM804 647.2h2v4.4h-2zM832 647.2h2v4.4h-2zM174 651.6h1v4.2h-1zM189 651.6h2v4.2h-2zM332 651.6h1v4.2h-1zM370 651.6h1v4.2h-1zM413 651.6h1v4.2h-1zM440 651.6h1v4.2h-1zM510 651.6h3v4.2h-3zM725 651.6h1v4.2h-1zM741 651.6h1v4.2h-1zM759 651.6h1v4.2h-1zM823 651.6h2v4.2h-2zM173 655.8h1v4.6h-1zM174 655.8h1v4.6h-1zM218 655.8h1v4.6h-1zM242 655.8h1v4.6h-1zM291 655.8h1v4.6h-1zM313 655.8h2v4.6h-2zM329 655.8h2v4.6h-2zM371 655.8h2v4.6h-2zM373 655.8h3v4.6h-3zM407 655.8h1v4.6h-1zM436 655.8h2v4.6h-2zM477 655.8h1v4.6h-1zM487 655.8h2v4.6h-2zM595 655.8h1v4.6h-1zM601 655.8h2v4.6h-2zM652 655.8h2v4.6h-2zM659 655.8h2v4.6h-2zM663 655.8h1v4.6h-1zM727 655.8h2v4.6h-2zM804 655.8h2v4.6h-2zM838 655.8h1v4.6h-1zM457 660.4h1v5.7h-1z"/>
<path fill="#0060ff" d="M163 639.8h2v3.1h-2zM244 639.8h2v3.1h-2zM281 639.8h1v3.1h-1zM472 639.8h3v3.1h-3zM163 642.9h2v4.3h-2zM173 642.9h1v4.3h-1zM189 642.9h2v4.3h-2zM210 642.9h3v4.3h-3zM213 642.9h1v4.3h-1zM289 642.9h1v4.3h-1zM323 642.9h2v4.3h-2zM335 642.9h1v4.3h-1zM342 642.9h2v4.3h-2zM353 642.9h1v4.3h-1zM357 642.9h3v4.3h-3zM365 642.9h1v4.3h-1zM398 642.9h3v4.3h-3zM407 642.9h1v4.3h-1zM415 642.9h3v4.3h-3zM434 642.9h2v4.3h-2zM440 642.9h1v4.3h-1zM475 642.9h2v4.3h-2zM477 642.9h1v4.3h-1zM484 642.9h3v4.3h-3zM565 642.9h3v4.3h-3zM603 642.9h3v4.3h-3zM617 642.9h1v4.3h-1zM648 642.9h1v4.3h-1zM675 642.9h2v4.3h-2zM701 642.9h2v4.3h-2zM713 642.9h1v4.3h-1zM734 642.9h1v4.3h-1zM744 642.9h3v4.3h-3zM757 642.9h2v4.3h-2zM760 642.9h1v4.3h-1zM772 642.9h1v4.3h-1zM774 642.9h3v4.3h-3zM792 642.9h2v4.3h-2zM816 642.9h2v4.3h-2zM150 647.2h2v4.4h-2zM174 647.2h1v4.4h-1zM178 647.2h3v4.4h-3zM181 647.2h1v4.4h-1zM189 647.2h2v4.4h-2zM233 647.2h3v4.4h-3zM243 647.2h1v4.4h-1zM279 647.2h1v4.4h-1zM282 647.2h1v4.4h-1zM325 647.2h3v4.4h-3zM342 647.2h2v4.4h-2zM380 647.2h3v4.4h-3zM413 647.2h1v4.4h-1zM415 647.2h3v4.4h-3zM421 647.2h1v4.4h-1zM458 647.2h2v4.4h-2zM508 647.2h1v4.4h-1zM545 647.2h1v4.4h-1zM573 647.2h3v4.4h-3zM594 647.2h1v4.4h-1zM630 647.2h2v4.4h-2zM691 647.2h1v4.4h-1zM706 647.2h3v4.4h-3zM725 647.2h1v4.4h-1zM750 647.2h1v4.4h-1zM756 647.2h1v4.4h-1zM777 647.2h1v4.4h-1zM812 647.2h1v4.4h-1zM819 647.2h3v4.4h-3zM841 647.2h3v4.4h-3zM159 651.6h3v4.2h-3zM214 651.6h2v4.2h-2zM218 651.6h1v4.2h-1zM223 651.6h3v4.2h-3zM233 651.6h3v4.2h-3zM438 651.6h2v4.2h-2zM458 651.6h2v4.2h-2zM482 651.6h2v4.2h-2zM487 651.6h2v4.2h-2zM501 651.6h2v4.2h-2zM516 651.6h1v4.2h-1zM548 651.6h2v4.2h-2zM563 651.6h2v4.2h-2zM579 651.6h1v4.2h-1zM617 651.6h1v4.2h-1zM648 651.6h1v4.2h-1zM649 651.6h2v4.2h-2zM692 651.6h3v4.2h-3zM819 651.6h3v4.2h-3zM831 651.6h1v4.2h-1zM142 655.8h2v4.6h-2zM156 655.8h3v4.6h-3zM177 655.8h1v4.6h-1zM213 655.8h1v4.6h-1zM223 655.8h3v4.6h-3zM328 655.8h1v4.6h-1zM345 655.8h3v4.6h-3zM393 655.8h1v4.6h-1zM466 655.8h1v4.6h-1zM489 655.8h3v4.6h-3zM503 655.8h3v4.6h-3zM524 655.8h2v4.6h-2zM548 655.8h2v4.6h-2zM558 655.8h1v4.6h-1zM616 655.8h1v4.6h-1zM641 655.8h3v4.6h-3zM690 655.8h1v4.6h-1zM734 655.8h1v4.6h-1zM742 655.8h2v4.6h-2zM747 655.8h1v4.6h-1zM748 655.8h2v4.6h-2z"/>
<path fill="#0040ff" d="M187 639.8h2v3.1h-2zM316 639.8h1v3.1h-1zM348 639.8h3v3.1h-3zM426 639.8h1v3.1h-1zM454 639.8h1v3.1h-1zM462 639.8h2v3.1h-2zM470 639.8h1v3.1h-1zM601 639.8h2v3.1h-2zM637 639.8h2v3.1h-2zM644 639.8h3v3.1h-3zM822 639.8h1v3.1h-1zM136 642.9h3v4.3h-3zM146 642.9h3v4.3h-3zM150 642.9h2v4.3h-2zM159 642.9h3v4.3h-3zM170 642.9h3v4.3h-3zM201 642.9h1v4.3h-1zM204 642.9h2v4.3h-2zM214 642.9h2v4.3h-2zM294 642.9h1v4.3h-1zM307 642.9h2v4.3h-2zM309 642.9h2v4.3h-2zM313 642.9h2v4.3h-2zM370 642.9h1v4.3h-1zM405 642.9h2v4.3h-2zM408 642.9h1v4.3h-1zM413 642.9h1v4.3h-1zM414 642.9h1v4.3h-1zM441 642.9h2v4.3h-2zM503 642.9h3v4.3h-3zM550 642.9h1v4.3h-1zM555 642.9h1v4.3h-1zM562 642.9h1v4.3h-1zM595 642.9h1v4.3h-1zM632 642.9h1v4.3h-1zM649 642.9h2v4.3h-2zM661 642.9h2v4.3h-2zM669 642.9h1v4.3h-1zM687 642.9h3v4.3h-3zM714 642.9h2v4.3h-2zM729 642.9h3v4.3h-3zM741 642.9h1v4.3h-1zM747 642.9h1v4.3h-1zM756 642.9h1v4.3h-1zM773 642.9h1v4.3h-1zM786 642.9h2v4.3h-2zM788 642.9h2v4.3h-2zM813 642.9h3v4.3h-3zM828 642.9h1v4.3h-1zM841 642.9h3v4.3h-3zM214 647.2h2v4.4h-2zM275 647.2h1v4.4h-1zM287 647.2h2v4.4h-2zM295 647.2h2v4.4h-2zM383 647.2h1v4.4h-1zM510 647.2h3v4.4h-3zM544 647.2h1v4.4h-1zM555 647.2h1v4.4h-1zM593 647.2h1v4.4h-1zM669 647.2h1v4.4h-1zM739 647.2h2v4.4h-2zM162 651.6h1v4.2h-1zM297 651.6h3v4.2h-3zM312 651.6h1v4.2h-1zM344 651.6h1v4.2h-1zM384 651.6h3v4.2h-3zM398 651.6h3v4.2h-3zM478 651.6h1v4.2h-1zM545 651.6h1v4.2h-1zM691 651.6h1v4.2h-1zM754 651.6h2v4.2h-2zM766 651.6h1v4.2h-1zM778 651.6h1v4.2h-1zM797 651.6h1v4.2h-1zM812 651.6h1v4.2h-1zM830 651.6h1v4.2h-1zM136 655.8h3v4.6h-3zM214 655.8h2v4.6h-2zM219 655.8h1v4.6h-1zM221 655.8h2v4.6h-2zM228 655.8h3v4.6h-3zM237 655.8h2v4.6h-2zM244 655.8h2v4.6h-2zM254 655.8h3v4.6h-3zM262 655.8h3v4.6h-3zM272 655.8h1v4.6h-1zM336 655.8h3v4.6h-3zM354 655.8h1v4.6h-1zM355 655.8h1v4.6h-1zM441 655.8h2v4.6h-2zM443 655.8h3v4.6h-3zM519 655.8h1v4.6h-1zM531 655.8h2v4.6h-2zM554 655.8h1v4.6h-1zM580 655.8h2v4.6h-2zM582 655.8h1v4.6h-1zM586 655.8h2v4.6h-2zM594 655.8h1v4.6h-1zM625 655.8h3v4.6h-3zM666 655.8h3v4.6h-3zM677 655.8h2v4.6h-2zM709 655.8h2v4.6h-2zM752 655.8h2v4.6h-2zM761 655.8h3v4.6h-3zM773 655.8h1v4.6h-1zM831 655.8h1v4.6h-1zM200 660.4h1v5.7h-1zM210 660.4h3v5.7h-3zM522 660.4h2v5.7h-2z"/>
<path fill="#0070ff" d="M239 639.8h3v3.1h-3zM185 642.9h2v4.3h-2zM206 642.9h2v4.3h-2zM254 642.9h3v4.3h-3zM320 642.9h3v4.3h-3zM325 642.9h3v4.3h-3zM336 642.9h3v4.3h-3zM373 642.9h3v4.3h-3zM387 642.9h3v4.3h-3zM432 642.9h2v4.3h-2zM450 642.9h3v4.3h-3zM454 642.9h1v4.3h-1zM520 642.9h2v4.3h-2zM533 642.9h2v4.3h-2zM568 642.9h3v4.3h-3zM618 642.9h3v4.3h-3zM651 642.9h1v4.3h-1zM706 642.9h3v4.3h-3zM724 642.9h1v4.3h-1zM725 642.9h1v4.3h-1zM727 642.9h2v4.3h-2zM750 642.9h1v4.3h-1zM759 642.9h1v4.3h-1zM777 642.9h1v4.3h-1zM779 642.9h2v4.3h-2zM794 642.9h3v4.3h-3zM812 642.9h1v4.3h-1zM829 642.9h1v4.3h-1zM835 642.9h3v4.3h-3zM844 642.9h2v4.3h-2zM159 647.2h3v4.4h-3zM269 647.2h2v4.4h-2zM286 647.2h1v4.4h-1zM292 647.2h2v4.4h-2zM312 647.2h1v4.4h-1zM317 647.2h2v4.4h-2zM319 647.2h1v4.4h-1zM370 647.2h1v4.4h-1zM376 647.2h1v4.4h-1zM398 647.2h3v4.4h-3zM412 647.2h1v4.4h-1zM501 647.2h2v4.4h-2zM554 647.2h1v4.4h-1zM558 647.2h1v4.4h-1zM586 647.2h2v4.4h-2zM611 647.2h2v4.4h-2zM648 647.2h1v4.4h-1zM661 647.2h2v4.4h-2zM778 647.2h1v4.4h-1zM784 647.2h1v4.4h-1zM816 647.2h2v4.4h-2zM828 647.2h1v4.4h-1zM831 647.2h1v4.4h-1zM197 651.6h2v4.2h-2zM272 651.6h1v4.2h-1zM276 651.6h3v4.2h-3zM294 651.6h1v4.2h-1zM309 651.6h2v4.2h-2zM320 651.6h3v4.2h-3zM323 651.6h2v4.2h-2zM342 651.6h2v4.2h-2zM376 651.6h1v4.2h-1zM379 651.6h1v4.2h-1zM397 651.6h1v4.2h-1zM415 651.6h3v4.2h-3zM434 651.6h2v4.2h-2zM450 651.6h3v4.2h-3zM479 651.6h3v4.2h-3zM508 651.6h1v4.2h-1zM551 651.6h3v4.2h-3zM556 651.6h2v4.2h-2zM576 651.6h3v4.2h-3zM595 651.6h1v4.2h-1zM628 651.6h2v4.2h-2zM637 651.6h2v4.2h-2zM652 651.6h2v4.2h-2zM669 651.6h1v4.2h-1zM675 651.6h2v4.2h-2zM687 651.6h3v4.2h-3zM703 651.6h2v4.2h-2zM713 651.6h1v4.2h-1zM726 651.6h1v4.2h-1zM756 651.6h1v4.2h-1zM790 651.6h2v4.2h-2zM810 651.6h2v4.2h-2zM828 651.6h1v4.2h-1zM133 655.8h2v4.6h-2zM163 655.8h2v4.6h-2zM178 655.8h1v4.6h-1zM182 655.8h2v4.6h-2zM187 655.8h2v4.6h-2zM210 655.8h3v4.6h-3zM250 655.8h2v4.6h-2zM252 655.8h2v4.6h-2zM280 655.8h1v4.6h-1zM283 655.8h1v4.6h-1zM284 655.8h2v4.6h-2zM414 655.8h1v4.6h-1zM418 655.8h3v4.6h-3zM427 655.8h2v4.6h-2zM429 655.8h1v4.6h-1zM432 655.8h2v4.6h-2zM461 655.8h1v4.6h-1zM550 655.8h1v4.6h-1zM573 655.8h3v4.6h-3zM599 655.8h1v4.6h-1zM630 655.8h2v4.6h-2zM632 655.8h1v4.6h-1zM654 655.8h2v4.6h-2zM685 655.8h1v4.6h-1zM735 655.8h1v4.6h-1zM779 655.8h2v4.6h-2zM782 655.8h2v4.6h-2zM792 655.8h2v4.6h-2zM818 655.8h1v4.6h-1z"/>
<path fill="#0050ff" d="M340 639.8h2v3.1h-2zM448 639.8h2v3.1h-2zM546 639.8h2v3.1h-2zM571 639.8h1v3.1h-1zM766 639.8h1v3.1h-1zM162 642.9h1v4.3h-1zM175 642.9h2v4.3h-2zM218 642.9h1v4.3h-1zM236 642.9h1v4.3h-1zM286 642.9h1v4.3h-1zM287 642.9h2v4.3h-2zM332 642.9h1v4.3h-1zM355 642.9h1v4.3h-1zM371 642.9h2v4.3h-2zM383 642.9h1v4.3h-1zM390 642.9h3v4.3h-3zM425 642.9h1v4.3h-1zM466 642.9h1v4.3h-1zM489 642.9h3v4.3h-3zM509 642.9h1v4.3h-1zM542 642.9h1v4.3h-1zM544 642.9h1v4.3h-1zM545 642.9h1v4.3h-1zM548 642.9h2v4.3h-2zM558 642.9h1v4.3h-1zM579 642.9h1v4.3h-1zM594 642.9h1v4.3h-1zM625 642.9h3v4.3h-3zM679 642.9h3v4.3h-3zM690 642.9h1v4.3h-1zM692 642.9h3v4.3h-3zM754 642.9h2v4.3h-2zM769 642.9h3v4.3h-3zM781 642.9h1v4.3h-1zM136 647.2h3v4.4h-3zM156 647.2h3v4.4h-3zM258 647.2h2v4.4h-2zM332 647.2h1v4.4h-1zM344 647.2h1v4.4h-1zM379 647.2h1v4.4h-1zM467 647.2h1v4.4h-1zM595 647.2h1v4.4h-1zM670 647.2h2v4.4h-2zM687 647.2h3v4.4h-3zM698 647.2h3v4.4h-3zM736 647.2h3v4.4h-3zM236 651.6h1v4.2h-1zM248 651.6h1v4.2h-1zM258 651.6h2v4.2h-2zM275 651.6h1v4.2h-1zM282 651.6h1v4.2h-1zM402 651.6h3v4.2h-3zM409 651.6h2v4.2h-2zM586 651.6h2v4.2h-2zM613 651.6h3v4.2h-3zM659 651.6h2v4.2h-2zM736 651.6h3v4.2h-3zM764 651.6h2v4.2h-2zM772 651.6h1v4.2h-1zM779 651.6h2v4.2h-2zM139 655.8h2v4.6h-2zM141 655.8h1v4.6h-1zM144 655.8h2v4.6h-2zM197 655.8h2v4.6h-2zM204 655.8h2v4.6h-2zM231 655.8h2v4.6h-2zM246 655.8h2v4.6h-2zM249 655.8h1v4.6h-1zM275 655.8h1v4.6h-1zM276 655.8h3v4.6h-3zM320 655.8h3v4.6h-3zM333 655.8h2v4.6h-2zM342 655.8h2v4.6h-2zM348 655.8h3v4.6h-3zM351 655.8h2v4.6h-2zM353 655.8h1v4.6h-1zM356 655.8h1v4.6h-1zM365 655.8h1v4.6h-1zM426 655.8h1v4.6h-1zM453 655.8h1v4.6h-1zM506 655.8h2v4.6h-2zM518 655.8h1v4.6h-1zM526 655.8h2v4.6h-2zM563 655.8h2v4.6h-2zM565 655.8h3v4.6h-3zM590 655.8h3v4.6h-3zM651 655.8h1v4.6h-1zM682 655.8h1v4.6h-1zM703 655.8h2v4.6h-2zM705 655.8h1v4.6h-1zM739 655.8h2v4.6h-2zM744 655.8h3v4.6h-3zM777 655.8h1v4.6h-1zM781 655.8h1v4.6h-1zM830 655.8h1v4.6h-1z"/>
<path fill="#0020ff" fill-opacity="0.80" d="M377 639.8h1v3.1h-1zM461 639.8h1v3.1h-1zM526 639.8h1v3.1h-1zM383 655.8h1v4.6h-1z"/>
<path fill="#0020ff" fill-opacity="0.50" d="M440 639.8h1v3.1h-1zM655 639.8h1v3.1h-1zM397 655.8h1v4.6h-1z"/>
<path fill="#0080ff" d="M501 639.8h2v3.1h-2zM583 639.8h3v3.1h-3zM184 642.9h1v4.3h-1zM192 642.9h1v4.3h-1zM197 642.9h2v4.3h-2zM249 642.9h1v4.3h-1zM272 642.9h1v4.3h-1zM290 642.9h1v4.3h-1zM311 642.9h1v4.3h-1zM362 642.9h3v4.3h-3zM366 642.9h3v4.3h-3zM378 642.9h1v4.3h-1zM436 642.9h2v4.3h-2zM468 642.9h2v4.3h-2zM479 642.9h3v4.3h-3zM516 642.9h1v4.3h-1zM540 642.9h2v4.3h-2zM554 642.9h1v4.3h-1zM586 642.9h2v4.3h-2zM601 642.9h2v4.3h-2zM639 642.9h2v4.3h-2zM647 642.9h1v4.3h-1zM677 642.9h2v4.3h-2zM695 642.9h1v4.3h-1zM742 642.9h2v4.3h-2zM830 642.9h1v4.3h-1zM847 642.9h2v4.3h-2zM184 647.2h1v4.4h-1zM191 647.2h1v4.4h-1zM223 647.2h3v4.4h-3zM249 647.2h1v4.4h-1zM254 647.2h3v4.4h-3zM265 647.2h2v4.4h-2zM440 647.2h1v4.4h-1zM441 647.2h2v4.4h-2zM484 647.2h3v4.4h-3zM487 647.2h2v4.4h-2zM516 647.2h1v4.4h-1zM551 647.2h3v4.4h-3zM576 647.2h3v4.4h-3zM580 647.2h2v4.4h-2zM596 647.2h3v4.4h-3zM618 647.2h3v4.4h-3zM652 647.2h2v4.4h-2zM727 647.2h2v4.4h-2zM741 647.2h1v4.4h-1zM742 647.2h2v4.4h-2zM744 647.2h3v4.4h-3zM766 647.2h1v4.4h-1zM769 647.2h3v4.4h-3zM779 647.2h2v4.4h-2zM788 647.2h2v4.4h-2zM797 647.2h1v4.4h-1zM802 647.2h2v4.4h-2zM810 647.2h2v4.4h-2zM825 647.2h3v4.4h-3zM142 651.6h2v4.2h-2zM182 651.6h2v4.2h-2zM185 651.6h2v4.2h-2zM195 651.6h2v4.2h-2zM216 651.6h1v4.2h-1zM243 651.6h1v4.2h-1zM252 651.6h2v4.2h-2zM269 651.6h2v4.2h-2zM311 651.6h1v4.2h-1zM328 651.6h1v4.2h-1zM336 651.6h3v4.2h-3zM365 651.6h1v4.2h-1zM380 651.6h3v4.2h-3zM401 651.6h1v4.2h-1zM414 651.6h1v4.2h-1zM466 651.6h1v4.2h-1zM471 651.6h1v4.2h-1zM484 651.6h3v4.2h-3zM526 651.6h2v4.2h-2zM558 651.6h1v4.2h-1zM565 651.6h3v4.2h-3zM600 651.6h1v4.2h-1zM625 651.6h3v4.2h-3zM635 651.6h2v4.2h-2zM698 651.6h3v4.2h-3zM719 651.6h3v4.2h-3zM727 651.6h2v4.2h-2zM729 651.6h3v4.2h-3zM747 651.6h1v4.2h-1zM760 651.6h1v4.2h-1zM802 651.6h2v4.2h-2zM847 651.6h2v4.2h-2zM192 655.8h1v4.6h-1zM260 655.8h2v4.6h-2zM287 655.8h2v4.6h-2zM289 655.8h1v4.6h-1zM300 655.8h2v4.6h-2zM317 655.8h2v4.6h-2zM360 655.8h1v4.6h-1zM390 655.8h3v4.6h-3zM413 655.8h1v4.6h-1zM422 655.8h3v4.6h-3zM455 655.8h1v4.6h-1zM462 655.8h2v4.6h-2zM472 655.8h3v4.6h-3zM517 655.8h1v4.6h-1zM561 655.8h1v4.6h-1zM572 655.8h1v4.6h-1zM606 655.8h3v4.6h-3zM639 655.8h2v4.6h-2zM672 655.8h2v4.6h-2zM714 655.8h2v4.6h-2zM829 655.8h1v4.6h-1z"/>
<path fill="#00efff" d="M133 642.9h2v4.3h-2zM144 642.9h2v4.3h-2zM331 642.9h1v4.3h-1zM430 642.9h2v4.3h-2zM446 642.9h2v4.3h-2zM522 642.9h2v4.3h-2zM531 642.9h2v4.3h-2zM616 642.9h1v4.3h-1zM709 642.9h2v4.3h-2zM822 642.9h1v4.3h-1zM144 647.2h2v4.4h-2zM177 647.2h1v4.4h-1zM204 647.2h2v4.4h-2zM206 647.2h2v4.4h-2zM271 647.2h1v4.4h-1zM304 647.2h3v4.4h-3zM366 647.2h3v4.4h-3zM401 647.2h1v4.4h-1zM405 647.2h2v4.4h-2zM408 647.2h1v4.4h-1zM427 647.2h2v4.4h-2zM429 647.2h1v4.4h-1zM434 647.2h2v4.4h-2zM471 647.2h1v4.4h-1zM506 647.2h2v4.4h-2zM535 647.2h2v4.4h-2zM606 647.2h3v4.4h-3zM623 647.2h2v4.4h-2zM735 647.2h1v4.4h-1zM154 651.6h2v4.2h-2zM163 651.6h2v4.2h-2zM192 651.6h1v4.2h-1zM260 651.6h2v4.2h-2zM284 651.6h2v4.2h-2zM289 651.6h1v4.2h-1zM373 651.6h3v4.2h-3zM390 651.6h3v4.2h-3zM421 651.6h1v4.2h-1zM454 651.6h1v4.2h-1zM468 651.6h2v4.2h-2zM517 651.6h1v4.2h-1zM537 651.6h3v4.2h-3zM542 651.6h1v4.2h-1zM546 651.6h2v4.2h-2zM590 651.6h3v4.2h-3zM596 651.6h3v4.2h-3zM609 651.6h2v4.2h-2zM663 651.6h1v4.2h-1zM785 651.6h1v4.2h-1zM834 651.6h1v4.2h-1zM844 651.6h2v4.2h-2zM816 655.8h2v4.6h-2z"/>
<path fill="#00dfff" d="M135 642.9h1v4.3h-1zM271 642.9h1v4.3h-1zM427 642.9h2v4.3h-2zM461 642.9h1v4.3h-1zM472 642.9h3v4.3h-3zM492 642.9h1v4.3h-1zM506 642.9h2v4.3h-2zM590 642.9h3v4.3h-3zM609 642.9h2v4.3h-2zM752 642.9h2v4.3h-2zM149 647.2h1v4.4h-1zM154 647.2h2v4.4h-2zM175 647.2h2v4.4h-2zM197 647.2h2v4.4h-2zM208 647.2h2v4.4h-2zM219 647.2h1v4.4h-1zM221 647.2h2v4.4h-2zM228 647.2h3v4.4h-3zM290 647.2h1v4.4h-1zM336 647.2h3v4.4h-3zM373 647.2h3v4.4h-3zM387 647.2h3v4.4h-3zM411 647.2h1v4.4h-1zM422 647.2h3v4.4h-3zM461 647.2h1v4.4h-1zM497 647.2h1v4.4h-1zM556 647.2h2v4.4h-2zM561 647.2h1v4.4h-1zM599 647.2h1v4.4h-1zM601 647.2h2v4.4h-2zM632 647.2h1v4.4h-1zM637 647.2h2v4.4h-2zM651 647.2h1v4.4h-1zM677 647.2h2v4.4h-2zM685 647.2h2v4.4h-2zM722 647.2h2v4.4h-2zM760 647.2h1v4.4h-1zM761 647.2h3v4.4h-3zM790 647.2h2v4.4h-2zM792 647.2h2v4.4h-2zM799 647.2h3v4.4h-3zM844 647.2h2v4.4h-2zM141 651.6h1v4.2h-1zM184 651.6h1v4.2h-1zM202 651.6h2v4.2h-2zM228 651.6h3v4.2h-3zM242 651.6h1v4.2h-1zM244 651.6h2v4.2h-2zM249 651.6h1v4.2h-1zM267 651.6h2v4.2h-2zM295 651.6h2v4.2h-2zM315 651.6h2v4.2h-2zM329 651.6h2v4.2h-2zM331 651.6h1v4.2h-1zM345 651.6h3v4.2h-3zM354 651.6h1v4.2h-1zM356 651.6h1v4.2h-1zM369 651.6h1v4.2h-1zM393 651.6h1v4.2h-1zM408 651.6h1v4.2h-1zM492 651.6h1v4.2h-1zM535 651.6h2v4.2h-2zM554 651.6h1v4.2h-1zM561 651.6h1v4.2h-1zM616 651.6h1v4.2h-1zM639 651.6h2v4.2h-2zM644 651.6h3v4.2h-3zM651 651.6h1v4.2h-1zM674 651.6h1v4.2h-1zM709 651.6h2v4.2h-2zM711 651.6h2v4.2h-2zM722 651.6h2v4.2h-2zM751 651.6h1v4.2h-1zM798 651.6h1v4.2h-1zM818 651.6h1v4.2h-1zM822 651.6h1v4.2h-1zM206 655.8h2v4.6h-2zM217 655.8h1v4.6h-1zM271 655.8h1v4.6h-1zM335 655.8h1v4.6h-1z"/>
<path fill="#00bfff" d="M139 642.9h2v4.3h-2zM208 642.9h2v4.3h-2zM231 642.9h2v4.3h-2zM273 642.9h2v4.3h-2zM291 642.9h1v4.3h-1zM302 642.9h2v4.3h-2zM333 642.9h2v4.3h-2zM339 642.9h1v4.3h-1zM345 642.9h3v4.3h-3zM409 642.9h2v4.3h-2zM448 642.9h2v4.3h-2zM498 642.9h3v4.3h-3zM514 642.9h2v4.3h-2zM559 642.9h2v4.3h-2zM572 642.9h1v4.3h-1zM633 642.9h2v4.3h-2zM644 642.9h3v4.3h-3zM654 642.9h2v4.3h-2zM666 642.9h3v4.3h-3zM785 642.9h1v4.3h-1zM798 642.9h1v4.3h-1zM187 647.2h2v4.4h-2zM236 647.2h1v4.4h-1zM242 647.2h1v4.4h-1zM246 647.2h2v4.4h-2zM248 647.2h1v4.4h-1zM272 647.2h1v4.4h-1zM300 647.2h2v4.4h-2zM309 647.2h2v4.4h-2zM320 647.2h3v4.4h-3zM331 647.2h1v4.4h-1zM345 647.2h3v4.4h-3zM365 647.2h1v4.4h-1zM377 647.2h1v4.4h-1zM409 647.2h2v4.4h-2zM426 647.2h1v4.4h-1zM454 647.2h1v4.4h-1zM466 647.2h1v4.4h-1zM493 647.2h2v4.4h-2zM514 647.2h2v4.4h-2zM519 647.2h1v4.4h-1zM524 647.2h2v4.4h-2zM613 647.2h3v4.4h-3zM635 647.2h2v4.4h-2zM659 647.2h2v4.4h-2zM683 647.2h2v4.4h-2zM703 647.2h2v4.4h-2zM709 647.2h2v4.4h-2zM714 647.2h2v4.4h-2zM751 647.2h1v4.4h-1zM752 647.2h2v4.4h-2zM773 647.2h1v4.4h-1zM834 647.2h1v4.4h-1zM838 647.2h1v4.4h-1zM139 651.6h2v4.2h-2zM156 651.6h3v4.2h-3zM217 651.6h1v4.2h-1zM250 651.6h2v4.2h-2zM280 651.6h1v4.2h-1zM302 651.6h2v4.2h-2zM313 651.6h2v4.2h-2zM351 651.6h2v4.2h-2zM353 651.6h1v4.2h-1zM355 651.6h1v4.2h-1zM394 651.6h3v4.2h-3zM405 651.6h2v4.2h-2zM529 651.6h2v4.2h-2zM533 651.6h2v4.2h-2zM562 651.6h1v4.2h-1zM656 651.6h3v4.2h-3zM666 651.6h3v4.2h-3zM677 651.6h2v4.2h-2zM701 651.6h2v4.2h-2zM761 651.6h3v4.2h-3zM806 651.6h1v4.2h-1zM813 651.6h3v4.2h-3zM829 651.6h1v4.2h-1zM839 651.6h2v4.2h-2zM846 651.6h1v4.2h-1zM239 655.8h3v4.6h-3zM446 655.8h2v4.6h-2zM609 655.8h2v4.6h-2z"/>
<path fill="#00afff" d="M141 642.9h1v4.3h-1zM168 642.9h2v4.3h-2zM177 642.9h1v4.3h-1zM219 642.9h1v4.3h-1zM244 642.9h2v4.3h-2zM354 642.9h1v4.3h-1zM361 642.9h1v4.3h-1zM376 642.9h1v4.3h-1zM377 642.9h1v4.3h-1zM401 642.9h1v4.3h-1zM456 642.9h2v4.3h-2zM462 642.9h2v4.3h-2zM470 642.9h1v4.3h-1zM517 642.9h1v4.3h-1zM529 642.9h2v4.3h-2zM582 642.9h1v4.3h-1zM583 642.9h3v4.3h-3zM637 642.9h2v4.3h-2zM641 642.9h3v4.3h-3zM683 642.9h2v4.3h-2zM716 642.9h2v4.3h-2zM722 642.9h2v4.3h-2zM732 642.9h2v4.3h-2zM748 642.9h2v4.3h-2zM751 642.9h1v4.3h-1zM790 642.9h2v4.3h-2zM195 647.2h2v4.4h-2zM213 647.2h1v4.4h-1zM226 647.2h2v4.4h-2zM273 647.2h2v4.4h-2zM291 647.2h1v4.4h-1zM294 647.2h1v4.4h-1zM357 647.2h3v4.4h-3zM378 647.2h1v4.4h-1zM414 647.2h1v4.4h-1zM425 647.2h1v4.4h-1zM432 647.2h2v4.4h-2zM448 647.2h2v4.4h-2zM453 647.2h1v4.4h-1zM464 647.2h2v4.4h-2zM495 647.2h2v4.4h-2zM498 647.2h3v4.4h-3zM503 647.2h3v4.4h-3zM518 647.2h1v4.4h-1zM533 647.2h2v4.4h-2zM543 647.2h1v4.4h-1zM546 647.2h2v4.4h-2zM548 647.2h2v4.4h-2zM550 647.2h1v4.4h-1zM562 647.2h1v4.4h-1zM563 647.2h2v4.4h-2zM582 647.2h1v4.4h-1zM583 647.2h3v4.4h-3zM639 647.2h2v4.4h-2zM641 647.2h3v4.4h-3zM656 647.2h3v4.4h-3zM690 647.2h1v4.4h-1zM705 647.2h1v4.4h-1zM729 647.2h3v4.4h-3zM747 647.2h1v4.4h-1zM759 647.2h1v4.4h-1zM772 647.2h1v4.4h-1zM781 647.2h1v4.4h-1zM794 647.2h3v4.4h-3zM830 647.2h1v4.4h-1zM839 647.2h2v4.4h-2zM206 651.6h2v4.2h-2zM220 651.6h1v4.2h-1zM257 651.6h1v4.2h-1zM262 651.6h3v4.2h-3zM265 651.6h2v4.2h-2zM283 651.6h1v4.2h-1zM357 651.6h3v4.2h-3zM387 651.6h3v4.2h-3zM418 651.6h3v4.2h-3zM456 651.6h2v4.2h-2zM464 651.6h2v4.2h-2zM489 651.6h3v4.2h-3zM493 651.6h2v4.2h-2zM503 651.6h3v4.2h-3zM544 651.6h1v4.2h-1zM550 651.6h1v4.2h-1zM555 651.6h1v4.2h-1zM583 651.6h3v4.2h-3zM599 651.6h1v4.2h-1zM623 651.6h2v4.2h-2zM641 651.6h3v4.2h-3zM664 651.6h2v4.2h-2zM682 651.6h1v4.2h-1zM714 651.6h2v4.2h-2zM750 651.6h1v4.2h-1zM782 651.6h2v4.2h-2zM784 651.6h1v4.2h-1zM786 651.6h2v4.2h-2zM794 651.6h3v4.2h-3zM807 651.6h3v4.2h-3zM199 655.8h2v4.6h-2zM281 655.8h1v4.6h-1zM302 655.8h2v4.6h-2zM331 655.8h1v4.6h-1zM415 655.8h3v4.6h-3zM537 655.8h3v4.6h-3zM732 655.8h2v4.6h-2zM750 655.8h1v4.6h-1zM790 655.8h2v4.6h-2zM798 655.8h1v4.6h-1zM844 655.8h2v4.6h-2z"/>
<path fill="#008fff" d="M154 642.9h2v4.3h-2zM181 642.9h1v4.3h-1zM182 642.9h2v4.3h-2zM195 642.9h2v4.3h-2zM216 642.9h1v4.3h-1zM223 642.9h3v4.3h-3zM228 642.9h3v4.3h-3zM242 642.9h1v4.3h-1zM248 642.9h1v4.3h-1zM250 642.9h2v4.3h-2zM252 642.9h2v4.3h-2zM328 642.9h1v4.3h-1zM356 642.9h1v4.3h-1zM393 642.9h1v4.3h-1zM394 642.9h3v4.3h-3zM411 642.9h1v4.3h-1zM421 642.9h1v4.3h-1zM422 642.9h3v4.3h-3zM429 642.9h1v4.3h-1zM443 642.9h3v4.3h-3zM453 642.9h1v4.3h-1zM519 642.9h1v4.3h-1zM524 642.9h2v4.3h-2zM526 642.9h2v4.3h-2zM556 642.9h2v4.3h-2zM599 642.9h1v4.3h-1zM613 642.9h3v4.3h-3zM623 642.9h2v4.3h-2zM656 642.9h3v4.3h-3zM659 642.9h2v4.3h-2zM711 642.9h2v4.3h-2zM726 642.9h1v4.3h-1zM735 642.9h1v4.3h-1zM782 642.9h2v4.3h-2zM799 642.9h3v4.3h-3zM806 642.9h1v4.3h-1zM839 642.9h2v4.3h-2zM142 647.2h2v4.4h-2zM146 647.2h3v4.4h-3zM162 647.2h1v4.4h-1zM185 647.2h2v4.4h-2zM201 647.2h1v4.4h-1zM218 647.2h1v4.4h-1zM231 647.2h2v4.4h-2zM260 647.2h2v4.4h-2zM276 647.2h3v4.4h-3zM311 647.2h1v4.4h-1zM328 647.2h1v4.4h-1zM360 647.2h1v4.4h-1zM384 647.2h3v4.4h-3zM397 647.2h1v4.4h-1zM418 647.2h3v4.4h-3zM436 647.2h2v4.4h-2zM475 647.2h2v4.4h-2zM478 647.2h1v4.4h-1zM479 647.2h3v4.4h-3zM489 647.2h3v4.4h-3zM509 647.2h1v4.4h-1zM540 647.2h2v4.4h-2zM542 647.2h1v4.4h-1zM579 647.2h1v4.4h-1zM621 647.2h2v4.4h-2zM633 647.2h2v4.4h-2zM649 647.2h2v4.4h-2zM664 647.2h2v4.4h-2zM679 647.2h3v4.4h-3zM682 647.2h1v4.4h-1zM724 647.2h1v4.4h-1zM734 647.2h1v4.4h-1zM748 647.2h2v4.4h-2zM829 647.2h1v4.4h-1zM847 647.2h2v4.4h-2zM136 651.6h3v4.2h-3zM150 651.6h2v4.2h-2zM170 651.6h3v4.2h-3zM181 651.6h1v4.2h-1zM193 651.6h2v4.2h-2zM226 651.6h2v4.2h-2zM246 651.6h2v4.2h-2zM286 651.6h1v4.2h-1zM290 651.6h1v4.2h-1zM292 651.6h2v4.2h-2zM304 651.6h3v4.2h-3zM335 651.6h1v4.2h-1zM360 651.6h1v4.2h-1zM366 651.6h3v4.2h-3zM383 651.6h1v4.2h-1zM412 651.6h1v4.2h-1zM422 651.6h3v4.2h-3zM429 651.6h1v4.2h-1zM441 651.6h2v4.2h-2zM477 651.6h1v4.2h-1zM495 651.6h2v4.2h-2zM509 651.6h1v4.2h-1zM524 651.6h2v4.2h-2zM528 651.6h1v4.2h-1zM568 651.6h3v4.2h-3zM601 651.6h2v4.2h-2zM618 651.6h3v4.2h-3zM621 651.6h2v4.2h-2zM630 651.6h2v4.2h-2zM670 651.6h2v4.2h-2zM690 651.6h1v4.2h-1zM705 651.6h1v4.2h-1zM724 651.6h1v4.2h-1zM735 651.6h1v4.2h-1zM739 651.6h2v4.2h-2zM742 651.6h2v4.2h-2zM769 651.6h3v4.2h-3zM788 651.6h2v4.2h-2zM804 651.6h2v4.2h-2zM816 651.6h2v4.2h-2zM841 651.6h3v4.2h-3zM135 655.8h1v4.6h-1zM175 655.8h2v4.6h-2zM184 655.8h1v4.6h-1zM257 655.8h1v4.6h-1zM377 655.8h1v4.6h-1zM394 655.8h3v4.6h-3zM405 655.8h2v4.6h-2zM495 655.8h2v4.6h-2zM498 655.8h3v4.6h-3zM514 655.8h2v4.6h-2zM529 655.8h2v4.6h-2zM556 655.8h2v4.6h-2zM571 655.8h1v4.6h-1zM637 655.8h2v4.6h-2zM656 655.8h3v4.6h-3zM664 655.8h2v4.6h-2zM683 655.8h2v4.6h-2zM813 655.8h3v4.6h-3zM822 655.8h1v4.6h-1z"/>
<path fill="#00cfff" d="M178 642.9h3v4.3h-3zM187 642.9h2v4.3h-2zM202 642.9h2v4.3h-2zM217 642.9h1v4.3h-1zM220 642.9h1v4.3h-1zM221 642.9h2v4.3h-2zM257 642.9h1v4.3h-1zM262 642.9h3v4.3h-3zM276 642.9h3v4.3h-3zM280 642.9h1v4.3h-1zM281 642.9h1v4.3h-1zM329 642.9h2v4.3h-2zM351 642.9h2v4.3h-2zM418 642.9h3v4.3h-3zM455 642.9h1v4.3h-1zM493 642.9h2v4.3h-2zM535 642.9h2v4.3h-2zM537 642.9h3v4.3h-3zM546 642.9h2v4.3h-2zM761 642.9h3v4.3h-3zM846 642.9h1v4.3h-1zM133 647.2h2v4.4h-2zM139 647.2h2v4.4h-2zM163 647.2h2v4.4h-2zM173 647.2h1v4.4h-1zM182 647.2h2v4.4h-2zM192 647.2h1v4.4h-1zM220 647.2h1v4.4h-1zM237 647.2h2v4.4h-2zM250 647.2h2v4.4h-2zM257 647.2h1v4.4h-1zM262 647.2h3v4.4h-3zM267 647.2h2v4.4h-2zM280 647.2h1v4.4h-1zM283 647.2h1v4.4h-1zM289 647.2h1v4.4h-1zM302 647.2h2v4.4h-2zM307 647.2h2v4.4h-2zM313 647.2h2v4.4h-2zM323 647.2h2v4.4h-2zM329 647.2h2v4.4h-2zM355 647.2h1v4.4h-1zM356 647.2h1v4.4h-1zM371 647.2h2v4.4h-2zM393 647.2h1v4.4h-1zM394 647.2h3v4.4h-3zM470 647.2h1v4.4h-1zM472 647.2h3v4.4h-3zM492 647.2h1v4.4h-1zM520 647.2h2v4.4h-2zM526 647.2h2v4.4h-2zM529 647.2h2v4.4h-2zM565 647.2h3v4.4h-3zM568 647.2h3v4.4h-3zM603 647.2h3v4.4h-3zM628 647.2h2v4.4h-2zM644 647.2h3v4.4h-3zM647 647.2h1v4.4h-1zM672 647.2h2v4.4h-2zM695 647.2h1v4.4h-1zM713 647.2h1v4.4h-1zM716 647.2h2v4.4h-2zM782 647.2h2v4.4h-2zM806 647.2h1v4.4h-1zM178 651.6h3v4.2h-3zM204 651.6h2v4.2h-2zM221 651.6h2v4.2h-2zM273 651.6h2v4.2h-2zM407 651.6h1v4.2h-1zM436 651.6h2v4.2h-2zM461 651.6h1v4.2h-1zM462 651.6h2v4.2h-2zM470 651.6h1v4.2h-1zM519 651.6h1v4.2h-1zM520 651.6h2v4.2h-2zM606 651.6h3v4.2h-3zM683 651.6h2v4.2h-2zM695 651.6h1v4.2h-1zM752 651.6h2v4.2h-2zM774 651.6h3v4.2h-3zM781 651.6h1v4.2h-1zM799 651.6h3v4.2h-3zM220 655.8h1v4.6h-1zM290 655.8h1v4.6h-1zM430 655.8h2v4.6h-2zM695 655.8h1v4.6h-1zM713 655.8h1v4.6h-1zM722 655.8h2v4.6h-2zM759 655.8h1v4.6h-1z"/>
<path fill="#009fff" d="M199 642.9h2v4.3h-2zM226 642.9h2v4.3h-2zM237 642.9h2v4.3h-2zM260 642.9h2v4.3h-2zM267 642.9h2v4.3h-2zM284 642.9h2v4.3h-2zM300 642.9h2v4.3h-2zM412 642.9h1v4.3h-1zM426 642.9h1v4.3h-1zM464 642.9h2v4.3h-2zM471 642.9h1v4.3h-1zM495 642.9h2v4.3h-2zM497 642.9h1v4.3h-1zM518 642.9h1v4.3h-1zM561 642.9h1v4.3h-1zM571 642.9h1v4.3h-1zM573 642.9h3v4.3h-3zM596 642.9h3v4.3h-3zM630 642.9h2v4.3h-2zM672 642.9h2v4.3h-2zM674 642.9h1v4.3h-1zM685 642.9h2v4.3h-2zM703 642.9h2v4.3h-2zM705 642.9h1v4.3h-1zM804 642.9h2v4.3h-2zM807 642.9h3v4.3h-3zM818 642.9h1v4.3h-1zM838 642.9h1v4.3h-1zM152 647.2h2v4.4h-2zM168 647.2h2v4.4h-2zM170 647.2h3v4.4h-3zM216 647.2h1v4.4h-1zM297 647.2h3v4.4h-3zM315 647.2h2v4.4h-2zM335 647.2h1v4.4h-1zM353 647.2h1v4.4h-1zM390 647.2h3v4.4h-3zM407 647.2h1v4.4h-1zM438 647.2h2v4.4h-2zM443 647.2h3v4.4h-3zM455 647.2h1v4.4h-1zM456 647.2h2v4.4h-2zM482 647.2h2v4.4h-2zM517 647.2h1v4.4h-1zM571 647.2h1v4.4h-1zM572 647.2h1v4.4h-1zM617 647.2h1v4.4h-1zM654 647.2h2v4.4h-2zM675 647.2h2v4.4h-2zM692 647.2h3v4.4h-3zM701 647.2h2v4.4h-2zM726 647.2h1v4.4h-1zM757 647.2h2v4.4h-2zM774 647.2h3v4.4h-3zM813 647.2h3v4.4h-3zM149 651.6h1v4.2h-1zM168 651.6h2v4.2h-2zM175 651.6h2v4.2h-2zM201 651.6h1v4.2h-1zM213 651.6h1v4.2h-1zM287 651.6h2v4.2h-2zM291 651.6h1v4.2h-1zM300 651.6h2v4.2h-2zM307 651.6h2v4.2h-2zM333 651.6h2v4.2h-2zM348 651.6h3v4.2h-3zM443 651.6h3v4.2h-3zM448 651.6h2v4.2h-2zM453 651.6h1v4.2h-1zM455 651.6h1v4.2h-1zM475 651.6h2v4.2h-2zM497 651.6h1v4.2h-1zM498 651.6h3v4.2h-3zM506 651.6h2v4.2h-2zM514 651.6h2v4.2h-2zM540 651.6h2v4.2h-2zM573 651.6h3v4.2h-3zM580 651.6h2v4.2h-2zM594 651.6h1v4.2h-1zM603 651.6h3v4.2h-3zM611 651.6h2v4.2h-2zM632 651.6h1v4.2h-1zM633 651.6h2v4.2h-2zM647 651.6h1v4.2h-1zM654 651.6h2v4.2h-2zM672 651.6h2v4.2h-2zM679 651.6h3v4.2h-3zM706 651.6h3v4.2h-3zM716 651.6h2v4.2h-2zM734 651.6h1v4.2h-1zM744 651.6h3v4.2h-3zM748 651.6h2v4.2h-2zM757 651.6h2v4.2h-2zM792 651.6h2v4.2h-2zM154 655.8h2v4.6h-2zM168 655.8h2v4.6h-2zM340 655.8h2v4.6h-2zM357 655.8h3v4.6h-3zM362 655.8h3v4.6h-3zM369 655.8h1v4.6h-1zM378 655.8h1v4.6h-1zM401 655.8h1v4.6h-1zM464 655.8h2v4.6h-2zM522 655.8h2v4.6h-2zM603 655.8h3v4.6h-3zM674 655.8h1v4.6h-1zM785 655.8h1v4.6h-1zM835 655.8h3v4.6h-3z"/>
<path fill="#00ffff" d="M239 642.9h3v4.3h-3zM340 642.9h2v4.3h-2zM369 642.9h1v4.3h-1zM588 642.9h2v4.3h-2zM606 642.9h3v4.3h-3zM663 642.9h1v4.3h-1zM210 647.2h3v4.4h-3zM244 647.2h2v4.4h-2zM252 647.2h2v4.4h-2zM339 647.2h1v4.4h-1zM348 647.2h3v4.4h-3zM430 647.2h2v4.4h-2zM468 647.2h2v4.4h-2zM477 647.2h1v4.4h-1zM531 647.2h2v4.4h-2zM609 647.2h2v4.4h-2zM616 647.2h1v4.4h-1zM625 647.2h3v4.4h-3zM786 647.2h2v4.4h-2zM798 647.2h1v4.4h-1zM822 647.2h1v4.4h-1zM846 647.2h1v4.4h-1zM133 651.6h2v4.2h-2zM173 651.6h1v4.2h-1zM187 651.6h2v4.2h-2zM210 651.6h3v4.2h-3zM219 651.6h1v4.2h-1zM237 651.6h2v4.2h-2zM371 651.6h2v4.2h-2zM377 651.6h1v4.2h-1zM411 651.6h1v4.2h-1zM426 651.6h1v4.2h-1zM518 651.6h1v4.2h-1zM531 651.6h2v4.2h-2zM572 651.6h1v4.2h-1zM582 651.6h1v4.2h-1zM685 651.6h2v4.2h-2zM732 651.6h2v4.2h-2zM773 651.6h1v4.2h-1zM777 651.6h1v4.2h-1zM835 651.6h3v4.2h-3zM588 655.8h2v4.6h-2zM799 655.8h3v4.6h-3z"/>
<path fill="#10ffef" d="M348 642.9h3v4.3h-3zM135 647.2h1v4.4h-1zM141 647.2h1v4.4h-1zM199 647.2h2v4.4h-2zM202 647.2h2v4.4h-2zM217 647.2h1v4.4h-1zM239 647.2h3v4.4h-3zM281 647.2h1v4.4h-1zM284 647.2h2v4.4h-2zM333 647.2h2v4.4h-2zM340 647.2h2v4.4h-2zM351 647.2h2v4.4h-2zM354 647.2h1v4.4h-1zM361 647.2h1v4.4h-1zM362 647.2h3v4.4h-3zM369 647.2h1v4.4h-1zM446 647.2h2v4.4h-2zM462 647.2h2v4.4h-2zM522 647.2h2v4.4h-2zM537 647.2h3v4.4h-3zM559 647.2h2v4.4h-2zM588 647.2h2v4.4h-2zM590 647.2h3v4.4h-3zM663 647.2h1v4.4h-1zM666 647.2h3v4.4h-3zM674 647.2h1v4.4h-1zM711 647.2h2v4.4h-2zM732 647.2h2v4.4h-2zM785 647.2h1v4.4h-1zM807 647.2h3v4.4h-3zM818 647.2h1v4.4h-1zM835 647.2h3v4.4h-3zM135 651.6h1v4.2h-1zM144 651.6h2v4.2h-2zM177 651.6h1v4.2h-1zM199 651.6h2v4.2h-2zM208 651.6h2v4.2h-2zM231 651.6h2v4.2h-2zM239 651.6h3v4.2h-3zM254 651.6h3v4.2h-3zM271 651.6h1v4.2h-1zM281 651.6h1v4.2h-1zM339 651.6h1v4.2h-1zM340 651.6h2v4.2h-2zM361 651.6h1v4.2h-1zM362 651.6h3v4.2h-3zM378 651.6h1v4.2h-1zM427 651.6h2v4.2h-2zM430 651.6h2v4.2h-2zM432 651.6h2v4.2h-2zM446 651.6h2v4.2h-2zM472 651.6h3v4.2h-3zM522 651.6h2v4.2h-2zM559 651.6h2v4.2h-2zM571 651.6h1v4.2h-1zM588 651.6h2v4.2h-2zM838 651.6h1v4.2h-1zM361 655.8h1v4.6h-1zM559 655.8h2v4.6h-2z"/>
<path fill="#0060ff" fill-opacity="0.80" d="M172 655.8h1v4.6h-1z"/>
<path fill="#00afff" fill-opacity="0.50" d="M711 655.8h1v4.6h-1z"/>
<path fill="#0000df" fill-opacity="0.85" d="M141 621h1v3h-1zM148 626h1v3h-1zM143 633h1v3h-1zM146 633h1v3h-1zM168 626h1v3h-1zM209 621h1v3h-1zM231 624h1v3h-1zM243 621h1v3h-1zM284 613h1v3h-1zM315 605h1v3h-1zM338 626h1v3h-1zM356 618h1v3h-1zM422 633h1v3h-1zM488 621h1v3h-1zM532 630h1v3h-1zM611 624h1v3h-1zM607 630h1v3h-1zM645 626h1v3h-1zM695 630h1v3h-1zM701 630h1v3h-1zM694 633h1v3h-1zM724 605h1v3h-1zM756 630h1v3h-1zM806 613h1v3h-1zM822 610h1v3h-1zM823 618h1v3h-1zM838 618h1v3h-1z"/>
</g>
<path d="M133.5 58.5H849.5V319.5H133.5ZM129.5 319.5h4M849.5 319.5h4M129.5 315.5h4M849.5 315.5h4M129.5 311.5h4M849.5 311.5h4M129.5 307.5h4M849.5 307.5h4M125.5 304.5h8M849.5 304.5h8M129.5 283.5h4M849.5 283.5h4M129.5 271.5h4M849.5 271.5h4M129.5 263.5h4M849.5 263.5h4M129.5 256.5h4M849.5 256.5h4M129.5 251.5h4M849.5 251.5h4M129.5 246.5h4M849.5 246.5h4M129.5 242.5h4M849.5 242.5h4M129.5 239.5h4M849.5 239.5h4M125.5 236.5h8M849.5 236.5h8M129.5 215.5h4M849.5 215.5h4M129.5 203.5h4M849.5 203.5h4M129.5 194.5h4M849.5 194.5h4M129.5 188.5h4M849.5 188.5h4M129.5 182.5h4M849.5 182.5h4M129.5 178.5h4M849.5 178.5h4M129.5 174.5h4M849.5 174.5h4M129.5 170.5h4M849.5 170.5h4M125.5 167.5h8M849.5 167.5h8M129.5 147.5h4M849.5 147.5h4M129.5 135.5h4M849.5 135.5h4M129.5 126.5h4M849.5 126.5h4M129.5 119.5h4M849.5 119.5h4M129.5 114.5h4M849.5 114.5h4M129.5 109.5h4M849.5 109.5h4M129.5 105.5h4M849.5 105.5h4M129.5 102.5h4M849.5 102.5h4M125.5 99.5h8M849.5 99.5h8M129.5 78.5h4M849.5 78.5h4M129.5 66.5h4M849.5 66.5h4M129.5 58.5h4M849.5 58.5h4M133.5 58.5v-8M133.5 319.5v8M251.5 58.5v-8M251.5 319.5v8M369.5 58.5v-8M369.5 319.5v8M486.5 58.5v-8M486.5 319.5v8M604.5 58.5v-8M604.5 319.5v8M722.5 58.5v-8M722.5 319.5v8M840.5 58.5v-8M840.5 319.5v8" stroke="#262626" stroke-width="1" fill="none"/>
<rect x="874.5" y="58.5" width="23.0" height="261.0" fill="url(#jetg)"/>
<path d="M874.5 58.5H897.5V319.5H874.5ZM897.5 319.5h-2M897.5 267.5h-2M897.5 215.5h-2M897.5 162.5h-2M897.5 110.5h-2M897.5 58.5h-2" stroke="#262626" stroke-width="1" fill="none"/>
<path d="M133.5 422.5H849.5V683.5H133.5ZM129.5 683.5h4M849.5 683.5h4M129.5 679.5h4M849.5 679.5h4M129.5 675.5h4M849.5 675.5h4M129.5 671.5h4M849.5 671.5h4M125.5 668.5h8M849.5 668.5h8M129.5 647.5h4M849.5 647.5h4M129.5 635.5h4M849.5 635.5h4M129.5 627.5h4M849.5 627.5h4M129.5 620.5h4M849.5 620.5h4M129.5 615.5h4M849.5 615.5h4M129.5 610.5h4M849.5 610.5h4M129.5 606.5h4M849.5 606.5h4M129.5 603.5h4M849.5 603.5h4M125.5 600.5h8M849.5 600.5h8M129.5 579.5h4M849.5 579.5h4M129.5 567.5h4M849.5 567.5h4M129.5 558.5h4M849.5 558.5h4M129.5 552.5h4M849.5 552.5h4M129.5 546.5h4M849.5 546.5h4M129.5 542.5h4M849.5 542.5h4M129.5 538.5h4M849.5 538.5h4M129.5 534.5h4M849.5 534.5h4M125.5 531.5h8M849.5 531.5h8M129.5 511.5h4M849.5 511.5h4M129.5 499.5h4M849.5 499.5h4M129.5 490.5h4M849.5 490.5h4M129.5 483.5h4M849.5 483.5h4M129.5 478.5h4M849.5 478.5h4M129.5 473.5h4M849.5 473.5h4M129.5 469.5h4M849.5 469.5h4M129.5 466.5h4M849.5 466.5h4M125.5 463.5h8M849.5 463.5h8M129.5 442.5h4M849.5 442.5h4M129.5 430.5h4M849.5 430.5h4M129.5 422.5h4M849.5 422.5h4M133.5 422.5v-8M133.5 683.5v8M251.5 422.5v-8M251.5 683.5v8M369.5 422.5v-8M369.5 683.5v8M486.5 422.5v-8M486.5 683.5v8M604.5 422.5v-8M604.5 683.5v8M722.5 422.5v-8M722.5 683.5v8M840.5 422.5v-8M840.5 683.5v8" stroke="#262626" stroke-width="1" fill="none"/>
<rect x="874.5" y="422.5" width="23.0" height="261.0" fill="url(#jetg)"/>
<path d="M874.5 422.5H897.5V683.5H874.5ZM897.5 683.5h-2M897.5 631.5h-2M897.5 579.5h-2M897.5 526.5h-2M897.5 474.5h-2M897.5 422.5h-2" stroke="#262626" stroke-width="1" fill="none"/>
<text x="492.40" y="25.00" font-size="21.20" text-anchor="middle" font-weight="bold" textLength="260.85" lengthAdjust="spacingAndGlyphs" fill="#000">RPCICA160626T11.PNG</text>
<text x="492.00" y="49.00" font-size="21.20" text-anchor="middle" font-weight="bold" textLength="175.80" lengthAdjust="spacingAndGlyphs" fill="#000">Solar Wind Ions</text>
<text x="492.00" y="413.10" font-size="21.20" text-anchor="middle" font-weight="bold" textLength="162.00" lengthAdjust="spacingAndGlyphs" fill="#000">Cometary Ions</text>
<text x="89.60" y="105.30" font-size="18.20" text-anchor="middle" textLength="57.15" lengthAdjust="spacingAndGlyphs">10000</text>
<text x="89.30" y="173.60" font-size="18.20" text-anchor="middle" textLength="44.97" lengthAdjust="spacingAndGlyphs">1000</text>
<text x="90.00" y="241.60" font-size="18.20" text-anchor="middle" textLength="34.35" lengthAdjust="spacingAndGlyphs">100</text>
<text x="89.20" y="311.20" font-size="18.20" text-anchor="middle" textLength="21.75" lengthAdjust="spacingAndGlyphs">10</text>
<text x="132.50" y="351.20" font-size="18.20" text-anchor="middle" textLength="51.45" lengthAdjust="spacingAndGlyphs">11:00</text>
<text x="250.65" y="351.20" font-size="18.20" text-anchor="middle" textLength="51.30" lengthAdjust="spacingAndGlyphs">11:10</text>
<text x="368.47" y="351.20" font-size="18.20" text-anchor="middle" textLength="51.30" lengthAdjust="spacingAndGlyphs">11:20</text>
<text x="486.55" y="351.20" font-size="18.20" text-anchor="middle" textLength="51.00" lengthAdjust="spacingAndGlyphs">11:30</text>
<text x="604.10" y="351.20" font-size="18.20" text-anchor="middle" textLength="51.30" lengthAdjust="spacingAndGlyphs">11:40</text>
<text x="721.92" y="351.20" font-size="18.20" text-anchor="middle" textLength="51.30" lengthAdjust="spacingAndGlyphs">11:50</text>
<text x="839.80" y="351.20" font-size="18.20" text-anchor="middle" textLength="51.45" lengthAdjust="spacingAndGlyphs">12:00</text>
<text x="491.40" y="376.00" font-size="21.60" text-anchor="middle" textLength="50.55" lengthAdjust="spacingAndGlyphs">Time</text>
<text transform="translate(52.08 189.30) rotate(-90)" font-size="21.50" text-anchor="middle" textLength="116.68" lengthAdjust="spacingAndGlyphs">Energy (eV)</text>
<text x="836.80" y="47.20" font-size="18.20" text-anchor="start" textLength="98.30" lengthAdjust="spacingAndGlyphs" fill="#000">Log counts</text>
<text x="904.30" y="325.80" font-size="18.20" text-anchor="start" fill="#000">0</text>
<text x="904.30" y="273.44" font-size="18.20" text-anchor="start" fill="#000">1</text>
<text x="904.30" y="221.08" font-size="18.20" text-anchor="start" fill="#000">2</text>
<text x="904.30" y="168.72" font-size="18.20" text-anchor="start" fill="#000">3</text>
<text x="904.30" y="116.36" font-size="18.20" text-anchor="start" fill="#000">4</text>
<text x="904.30" y="64.00" font-size="18.20" text-anchor="start" fill="#000">5</text>
<text x="89.60" y="469.30" font-size="18.20" text-anchor="middle" textLength="57.15" lengthAdjust="spacingAndGlyphs">10000</text>
<text x="89.30" y="537.60" font-size="18.20" text-anchor="middle" textLength="44.97" lengthAdjust="spacingAndGlyphs">1000</text>
<text x="90.00" y="605.60" font-size="18.20" text-anchor="middle" textLength="34.35" lengthAdjust="spacingAndGlyphs">100</text>
<text x="89.20" y="675.20" font-size="18.20" text-anchor="middle" textLength="21.75" lengthAdjust="spacingAndGlyphs">10</text>
<text x="132.50" y="715.20" font-size="18.20" text-anchor="middle" textLength="51.45" lengthAdjust="spacingAndGlyphs">11:00</text>
<text x="250.65" y="715.20" font-size="18.20" text-anchor="middle" textLength="51.30" lengthAdjust="spacingAndGlyphs">11:10</text>
<text x="368.47" y="715.20" font-size="18.20" text-anchor="middle" textLength="51.30" lengthAdjust="spacingAndGlyphs">11:20</text>
<text x="486.55" y="715.20" font-size="18.20" text-anchor="middle" textLength="51.00" lengthAdjust="spacingAndGlyphs">11:30</text>
<text x="604.10" y="715.20" font-size="18.20" text-anchor="middle" textLength="51.30" lengthAdjust="spacingAndGlyphs">11:40</text>
<text x="721.92" y="715.20" font-size="18.20" text-anchor="middle" textLength="51.30" lengthAdjust="spacingAndGlyphs">11:50</text>
<text x="839.80" y="715.20" font-size="18.20" text-anchor="middle" textLength="51.45" lengthAdjust="spacingAndGlyphs">12:00</text>
<text x="491.40" y="740.00" font-size="21.60" text-anchor="middle" textLength="50.55" lengthAdjust="spacingAndGlyphs">Time</text>
<text transform="translate(52.08 553.30) rotate(-90)" font-size="21.50" text-anchor="middle" textLength="116.68" lengthAdjust="spacingAndGlyphs">Energy (eV)</text>
<text x="836.80" y="411.20" font-size="18.20" text-anchor="start" textLength="98.30" lengthAdjust="spacingAndGlyphs" fill="#000">Log counts</text>
<text x="904.30" y="689.80" font-size="18.20" text-anchor="start" fill="#000">0</text>
<text x="904.30" y="637.44" font-size="18.20" text-anchor="start" fill="#000">1</text>
<text x="904.30" y="585.08" font-size="18.20" text-anchor="start" fill="#000">2</text>
<text x="904.30" y="532.72" font-size="18.20" text-anchor="start" fill="#000">3</text>
<text x="904.30" y="480.36" font-size="18.20" text-anchor="start" fill="#000">4</text>
<text x="904.30" y="428.00" font-size="18.20" text-anchor="start" fill="#000">5</text>
</svg></body></html>
